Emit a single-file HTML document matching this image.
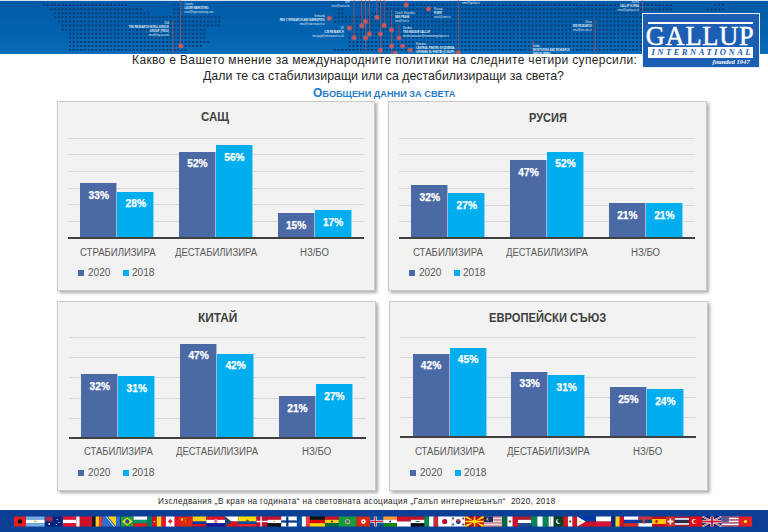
<!DOCTYPE html>
<html><head><meta charset="utf-8">
<style>
html,body{margin:0;padding:0;}
body{width:768px;height:532px;position:relative;overflow:hidden;background:#fff;font-family:"Liberation Sans",sans-serif;}
.t{position:absolute;white-space:pre;line-height:1;}
.box{position:absolute;background:#f2f2f2;border:1px solid #c9c9c9;box-sizing:border-box;box-shadow:2px 2px 3px rgba(0,0,0,0.33);}
.bar{position:absolute;box-sizing:border-box;}
.grid{position:absolute;height:1px;background:#d9d9d9;}
.axis{position:absolute;height:2px;background:#404040;}
.lab{position:absolute;white-space:pre;line-height:1;color:#fff;font-weight:700;font-size:10.2px;text-align:center;-webkit-text-stroke:0.25px #fff;}
</style></head><body>

<svg style="position:absolute;left:0;top:0" width="768" height="54" viewBox="0 0 768 54">
<defs>
<linearGradient id="hg" x1="0" y1="0" x2="0" y2="1">
<stop offset="0" stop-color="#005aa7"/><stop offset="0.7" stop-color="#0464b1"/><stop offset="1" stop-color="#066cba"/>
</linearGradient>
</defs>
<rect x="0" y="0" width="768" height="54" fill="url(#hg)"/>
<rect x="0" y="0" width="768" height="1" fill="#d8e2ee"/>
<path fill="#0a3a70" fill-opacity="0.9" d="M42.94 4.10h2v2h-2zM46.67 4.10h2v2h-2zM50.40 4.10h2v2h-2zM54.13 4.10h2v2h-2zM57.86 4.10h2v2h-2zM61.59 4.10h2v2h-2zM65.32 4.10h2v2h-2zM69.05 4.10h2v2h-2zM72.78 4.10h2v2h-2zM76.51 4.10h2v2h-2zM80.24 4.10h2v2h-2zM83.97 4.10h2v2h-2zM87.70 4.10h2v2h-2zM91.43 4.10h2v2h-2zM95.16 4.10h2v2h-2zM98.89 4.10h2v2h-2zM102.62 4.10h2v2h-2zM106.35 4.10h2v2h-2zM110.08 4.10h2v2h-2zM113.81 4.10h2v2h-2zM117.54 4.10h2v2h-2zM121.27 4.10h2v2h-2zM125.00 4.10h2v2h-2zM173.49 4.10h2v2h-2zM177.22 4.10h2v2h-2zM378.64 4.10h2v2h-2zM382.37 4.10h2v2h-2zM386.10 4.10h2v2h-2zM389.83 4.10h2v2h-2zM393.56 4.10h2v2h-2zM397.29 4.10h2v2h-2zM401.02 4.10h2v2h-2zM404.75 4.10h2v2h-2zM408.48 4.10h2v2h-2zM412.21 4.10h2v2h-2zM415.94 4.10h2v2h-2zM419.67 4.10h2v2h-2zM423.40 4.10h2v2h-2zM427.13 4.10h2v2h-2zM430.86 4.10h2v2h-2zM434.59 4.10h2v2h-2zM438.32 4.10h2v2h-2zM442.05 4.10h2v2h-2zM445.78 4.10h2v2h-2zM449.51 4.10h2v2h-2zM453.24 4.10h2v2h-2zM456.97 4.10h2v2h-2zM460.70 4.10h2v2h-2zM464.43 4.10h2v2h-2zM468.16 4.10h2v2h-2zM471.89 4.10h2v2h-2zM475.62 4.10h2v2h-2zM479.35 4.10h2v2h-2zM483.08 4.10h2v2h-2zM486.81 4.10h2v2h-2zM490.54 4.10h2v2h-2zM494.27 4.10h2v2h-2zM498.00 4.10h2v2h-2zM501.73 4.10h2v2h-2zM505.46 4.10h2v2h-2zM509.19 4.10h2v2h-2zM512.92 4.10h2v2h-2zM516.65 4.10h2v2h-2zM520.38 4.10h2v2h-2zM524.11 4.10h2v2h-2zM527.84 4.10h2v2h-2zM531.57 4.10h2v2h-2zM535.30 4.10h2v2h-2zM539.03 4.10h2v2h-2zM542.76 4.10h2v2h-2zM546.49 4.10h2v2h-2zM550.22 4.10h2v2h-2zM553.95 4.10h2v2h-2zM557.68 4.10h2v2h-2zM561.41 4.10h2v2h-2zM565.14 4.10h2v2h-2zM568.87 4.10h2v2h-2zM572.60 4.10h2v2h-2zM576.33 4.10h2v2h-2zM580.06 4.10h2v2h-2zM583.79 4.10h2v2h-2zM587.52 4.10h2v2h-2zM591.25 4.10h2v2h-2zM594.98 4.10h2v2h-2zM598.71 4.10h2v2h-2zM602.44 4.10h2v2h-2zM606.17 4.10h2v2h-2zM609.90 4.10h2v2h-2zM613.63 4.10h2v2h-2zM617.36 4.10h2v2h-2zM621.09 4.10h2v2h-2zM624.82 4.10h2v2h-2zM628.55 4.10h2v2h-2zM632.28 4.10h2v2h-2zM636.01 4.10h2v2h-2zM639.74 4.10h2v2h-2zM643.47 4.10h2v2h-2zM647.20 4.10h2v2h-2zM650.93 4.10h2v2h-2zM654.66 4.10h2v2h-2zM658.39 4.10h2v2h-2zM662.12 4.10h2v2h-2zM665.85 4.10h2v2h-2zM669.58 4.10h2v2h-2zM714.34 4.10h2v2h-2zM718.07 4.10h2v2h-2zM721.80 4.10h2v2h-2zM50.40 8.19h2v2h-2zM54.13 8.19h2v2h-2zM57.86 8.19h2v2h-2zM61.59 8.19h2v2h-2zM65.32 8.19h2v2h-2zM69.05 8.19h2v2h-2zM72.78 8.19h2v2h-2zM76.51 8.19h2v2h-2zM80.24 8.19h2v2h-2zM83.97 8.19h2v2h-2zM87.70 8.19h2v2h-2zM91.43 8.19h2v2h-2zM95.16 8.19h2v2h-2zM98.89 8.19h2v2h-2zM102.62 8.19h2v2h-2zM106.35 8.19h2v2h-2zM110.08 8.19h2v2h-2zM113.81 8.19h2v2h-2zM117.54 8.19h2v2h-2zM121.27 8.19h2v2h-2zM125.00 8.19h2v2h-2zM128.73 8.19h2v2h-2zM132.46 8.19h2v2h-2zM136.19 8.19h2v2h-2zM139.92 8.19h2v2h-2zM173.49 8.19h2v2h-2zM177.22 8.19h2v2h-2zM337.61 8.19h2v2h-2zM341.34 8.19h2v2h-2zM378.64 8.19h2v2h-2zM382.37 8.19h2v2h-2zM386.10 8.19h2v2h-2zM389.83 8.19h2v2h-2zM393.56 8.19h2v2h-2zM397.29 8.19h2v2h-2zM401.02 8.19h2v2h-2zM404.75 8.19h2v2h-2zM408.48 8.19h2v2h-2zM412.21 8.19h2v2h-2zM415.94 8.19h2v2h-2zM419.67 8.19h2v2h-2zM423.40 8.19h2v2h-2zM427.13 8.19h2v2h-2zM430.86 8.19h2v2h-2zM434.59 8.19h2v2h-2zM438.32 8.19h2v2h-2zM442.05 8.19h2v2h-2zM445.78 8.19h2v2h-2zM449.51 8.19h2v2h-2zM453.24 8.19h2v2h-2zM456.97 8.19h2v2h-2zM460.70 8.19h2v2h-2zM464.43 8.19h2v2h-2zM468.16 8.19h2v2h-2zM471.89 8.19h2v2h-2zM475.62 8.19h2v2h-2zM479.35 8.19h2v2h-2zM483.08 8.19h2v2h-2zM486.81 8.19h2v2h-2zM490.54 8.19h2v2h-2zM494.27 8.19h2v2h-2zM498.00 8.19h2v2h-2zM501.73 8.19h2v2h-2zM505.46 8.19h2v2h-2zM509.19 8.19h2v2h-2zM512.92 8.19h2v2h-2zM516.65 8.19h2v2h-2zM520.38 8.19h2v2h-2zM524.11 8.19h2v2h-2zM527.84 8.19h2v2h-2zM531.57 8.19h2v2h-2zM535.30 8.19h2v2h-2zM539.03 8.19h2v2h-2zM542.76 8.19h2v2h-2zM546.49 8.19h2v2h-2zM550.22 8.19h2v2h-2zM553.95 8.19h2v2h-2zM557.68 8.19h2v2h-2zM561.41 8.19h2v2h-2zM565.14 8.19h2v2h-2zM568.87 8.19h2v2h-2zM572.60 8.19h2v2h-2zM576.33 8.19h2v2h-2zM580.06 8.19h2v2h-2zM583.79 8.19h2v2h-2zM587.52 8.19h2v2h-2zM591.25 8.19h2v2h-2zM594.98 8.19h2v2h-2zM598.71 8.19h2v2h-2zM602.44 8.19h2v2h-2zM606.17 8.19h2v2h-2zM609.90 8.19h2v2h-2zM613.63 8.19h2v2h-2zM617.36 8.19h2v2h-2zM621.09 8.19h2v2h-2zM624.82 8.19h2v2h-2zM628.55 8.19h2v2h-2zM632.28 8.19h2v2h-2zM636.01 8.19h2v2h-2zM639.74 8.19h2v2h-2zM643.47 8.19h2v2h-2zM647.20 8.19h2v2h-2zM650.93 8.19h2v2h-2zM654.66 8.19h2v2h-2zM658.39 8.19h2v2h-2zM662.12 8.19h2v2h-2zM665.85 8.19h2v2h-2zM669.58 8.19h2v2h-2zM706.88 8.19h2v2h-2zM710.61 8.19h2v2h-2zM714.34 8.19h2v2h-2zM718.07 8.19h2v2h-2zM721.80 8.19h2v2h-2zM54.13 12.28h2v2h-2zM57.86 12.28h2v2h-2zM61.59 12.28h2v2h-2zM65.32 12.28h2v2h-2zM69.05 12.28h2v2h-2zM72.78 12.28h2v2h-2zM76.51 12.28h2v2h-2zM80.24 12.28h2v2h-2zM83.97 12.28h2v2h-2zM87.70 12.28h2v2h-2zM91.43 12.28h2v2h-2zM95.16 12.28h2v2h-2zM98.89 12.28h2v2h-2zM102.62 12.28h2v2h-2zM106.35 12.28h2v2h-2zM110.08 12.28h2v2h-2zM113.81 12.28h2v2h-2zM117.54 12.28h2v2h-2zM121.27 12.28h2v2h-2zM125.00 12.28h2v2h-2zM128.73 12.28h2v2h-2zM132.46 12.28h2v2h-2zM136.19 12.28h2v2h-2zM139.92 12.28h2v2h-2zM143.65 12.28h2v2h-2zM147.38 12.28h2v2h-2zM173.49 12.28h2v2h-2zM177.22 12.28h2v2h-2zM337.61 12.28h2v2h-2zM341.34 12.28h2v2h-2zM371.18 12.28h2v2h-2zM374.91 12.28h2v2h-2zM378.64 12.28h2v2h-2zM382.37 12.28h2v2h-2zM386.10 12.28h2v2h-2zM389.83 12.28h2v2h-2zM393.56 12.28h2v2h-2zM397.29 12.28h2v2h-2zM401.02 12.28h2v2h-2zM404.75 12.28h2v2h-2zM408.48 12.28h2v2h-2zM412.21 12.28h2v2h-2zM415.94 12.28h2v2h-2zM419.67 12.28h2v2h-2zM423.40 12.28h2v2h-2zM427.13 12.28h2v2h-2zM430.86 12.28h2v2h-2zM434.59 12.28h2v2h-2zM438.32 12.28h2v2h-2zM442.05 12.28h2v2h-2zM445.78 12.28h2v2h-2zM449.51 12.28h2v2h-2zM453.24 12.28h2v2h-2zM456.97 12.28h2v2h-2zM460.70 12.28h2v2h-2zM464.43 12.28h2v2h-2zM468.16 12.28h2v2h-2zM471.89 12.28h2v2h-2zM475.62 12.28h2v2h-2zM479.35 12.28h2v2h-2zM483.08 12.28h2v2h-2zM486.81 12.28h2v2h-2zM490.54 12.28h2v2h-2zM494.27 12.28h2v2h-2zM498.00 12.28h2v2h-2zM501.73 12.28h2v2h-2zM505.46 12.28h2v2h-2zM509.19 12.28h2v2h-2zM512.92 12.28h2v2h-2zM516.65 12.28h2v2h-2zM520.38 12.28h2v2h-2zM524.11 12.28h2v2h-2zM527.84 12.28h2v2h-2zM531.57 12.28h2v2h-2zM535.30 12.28h2v2h-2zM539.03 12.28h2v2h-2zM542.76 12.28h2v2h-2zM546.49 12.28h2v2h-2zM550.22 12.28h2v2h-2zM553.95 12.28h2v2h-2zM557.68 12.28h2v2h-2zM561.41 12.28h2v2h-2zM565.14 12.28h2v2h-2zM568.87 12.28h2v2h-2zM572.60 12.28h2v2h-2zM576.33 12.28h2v2h-2zM580.06 12.28h2v2h-2zM583.79 12.28h2v2h-2zM587.52 12.28h2v2h-2zM591.25 12.28h2v2h-2zM594.98 12.28h2v2h-2zM598.71 12.28h2v2h-2zM602.44 12.28h2v2h-2zM606.17 12.28h2v2h-2zM609.90 12.28h2v2h-2zM613.63 12.28h2v2h-2zM617.36 12.28h2v2h-2zM621.09 12.28h2v2h-2zM624.82 12.28h2v2h-2zM628.55 12.28h2v2h-2zM632.28 12.28h2v2h-2zM636.01 12.28h2v2h-2zM639.74 12.28h2v2h-2zM54.13 16.37h2v2h-2zM57.86 16.37h2v2h-2zM61.59 16.37h2v2h-2zM65.32 16.37h2v2h-2zM69.05 16.37h2v2h-2zM72.78 16.37h2v2h-2zM76.51 16.37h2v2h-2zM80.24 16.37h2v2h-2zM83.97 16.37h2v2h-2zM87.70 16.37h2v2h-2zM91.43 16.37h2v2h-2zM95.16 16.37h2v2h-2zM98.89 16.37h2v2h-2zM102.62 16.37h2v2h-2zM106.35 16.37h2v2h-2zM110.08 16.37h2v2h-2zM113.81 16.37h2v2h-2zM117.54 16.37h2v2h-2zM121.27 16.37h2v2h-2zM125.00 16.37h2v2h-2zM128.73 16.37h2v2h-2zM132.46 16.37h2v2h-2zM136.19 16.37h2v2h-2zM139.92 16.37h2v2h-2zM143.65 16.37h2v2h-2zM147.38 16.37h2v2h-2zM151.11 16.37h2v2h-2zM154.84 16.37h2v2h-2zM158.57 16.37h2v2h-2zM162.30 16.37h2v2h-2zM166.03 16.37h2v2h-2zM169.76 16.37h2v2h-2zM173.49 16.37h2v2h-2zM177.22 16.37h2v2h-2zM180.95 16.37h2v2h-2zM184.68 16.37h2v2h-2zM188.41 16.37h2v2h-2zM192.14 16.37h2v2h-2zM195.87 16.37h2v2h-2zM199.60 16.37h2v2h-2zM203.33 16.37h2v2h-2zM207.06 16.37h2v2h-2zM210.79 16.37h2v2h-2zM214.52 16.37h2v2h-2zM218.25 16.37h2v2h-2zM333.88 16.37h2v2h-2zM337.61 16.37h2v2h-2zM341.34 16.37h2v2h-2zM345.07 16.37h2v2h-2zM348.80 16.37h2v2h-2zM352.53 16.37h2v2h-2zM356.26 16.37h2v2h-2zM359.99 16.37h2v2h-2zM363.72 16.37h2v2h-2zM367.45 16.37h2v2h-2zM371.18 16.37h2v2h-2zM374.91 16.37h2v2h-2zM378.64 16.37h2v2h-2zM382.37 16.37h2v2h-2zM386.10 16.37h2v2h-2zM389.83 16.37h2v2h-2zM393.56 16.37h2v2h-2zM397.29 16.37h2v2h-2zM401.02 16.37h2v2h-2zM404.75 16.37h2v2h-2zM408.48 16.37h2v2h-2zM412.21 16.37h2v2h-2zM415.94 16.37h2v2h-2zM419.67 16.37h2v2h-2zM423.40 16.37h2v2h-2zM427.13 16.37h2v2h-2zM430.86 16.37h2v2h-2zM434.59 16.37h2v2h-2zM438.32 16.37h2v2h-2zM442.05 16.37h2v2h-2zM445.78 16.37h2v2h-2zM449.51 16.37h2v2h-2zM453.24 16.37h2v2h-2zM456.97 16.37h2v2h-2zM460.70 16.37h2v2h-2zM464.43 16.37h2v2h-2zM468.16 16.37h2v2h-2zM471.89 16.37h2v2h-2zM475.62 16.37h2v2h-2zM479.35 16.37h2v2h-2zM483.08 16.37h2v2h-2zM486.81 16.37h2v2h-2zM490.54 16.37h2v2h-2zM494.27 16.37h2v2h-2zM498.00 16.37h2v2h-2zM501.73 16.37h2v2h-2zM505.46 16.37h2v2h-2zM509.19 16.37h2v2h-2zM512.92 16.37h2v2h-2zM516.65 16.37h2v2h-2zM520.38 16.37h2v2h-2zM524.11 16.37h2v2h-2zM527.84 16.37h2v2h-2zM531.57 16.37h2v2h-2zM535.30 16.37h2v2h-2zM539.03 16.37h2v2h-2zM542.76 16.37h2v2h-2zM546.49 16.37h2v2h-2zM550.22 16.37h2v2h-2zM553.95 16.37h2v2h-2zM557.68 16.37h2v2h-2zM561.41 16.37h2v2h-2zM565.14 16.37h2v2h-2zM568.87 16.37h2v2h-2zM572.60 16.37h2v2h-2zM576.33 16.37h2v2h-2zM580.06 16.37h2v2h-2zM583.79 16.37h2v2h-2zM587.52 16.37h2v2h-2zM591.25 16.37h2v2h-2zM594.98 16.37h2v2h-2zM598.71 16.37h2v2h-2zM602.44 16.37h2v2h-2zM606.17 16.37h2v2h-2zM609.90 16.37h2v2h-2zM613.63 16.37h2v2h-2zM617.36 16.37h2v2h-2zM621.09 16.37h2v2h-2zM624.82 16.37h2v2h-2zM628.55 16.37h2v2h-2zM632.28 16.37h2v2h-2zM636.01 16.37h2v2h-2zM639.74 16.37h2v2h-2zM643.47 16.37h2v2h-2zM647.20 16.37h2v2h-2zM650.93 16.37h2v2h-2zM654.66 16.37h2v2h-2zM658.39 16.37h2v2h-2zM662.12 16.37h2v2h-2zM665.85 16.37h2v2h-2zM669.58 16.37h2v2h-2zM673.31 16.37h2v2h-2zM677.04 16.37h2v2h-2zM680.77 16.37h2v2h-2zM684.50 16.37h2v2h-2zM688.23 16.37h2v2h-2zM691.96 16.37h2v2h-2zM695.69 16.37h2v2h-2zM699.42 16.37h2v2h-2zM57.86 20.46h2v2h-2zM61.59 20.46h2v2h-2zM65.32 20.46h2v2h-2zM69.05 20.46h2v2h-2zM72.78 20.46h2v2h-2zM76.51 20.46h2v2h-2zM80.24 20.46h2v2h-2zM83.97 20.46h2v2h-2zM87.70 20.46h2v2h-2zM91.43 20.46h2v2h-2zM95.16 20.46h2v2h-2zM98.89 20.46h2v2h-2zM102.62 20.46h2v2h-2zM106.35 20.46h2v2h-2zM110.08 20.46h2v2h-2zM113.81 20.46h2v2h-2zM117.54 20.46h2v2h-2zM121.27 20.46h2v2h-2zM125.00 20.46h2v2h-2zM128.73 20.46h2v2h-2zM132.46 20.46h2v2h-2zM136.19 20.46h2v2h-2zM139.92 20.46h2v2h-2zM143.65 20.46h2v2h-2zM147.38 20.46h2v2h-2zM151.11 20.46h2v2h-2zM154.84 20.46h2v2h-2zM158.57 20.46h2v2h-2zM162.30 20.46h2v2h-2zM166.03 20.46h2v2h-2zM169.76 20.46h2v2h-2zM173.49 20.46h2v2h-2zM177.22 20.46h2v2h-2zM180.95 20.46h2v2h-2zM184.68 20.46h2v2h-2zM188.41 20.46h2v2h-2zM192.14 20.46h2v2h-2zM195.87 20.46h2v2h-2zM199.60 20.46h2v2h-2zM203.33 20.46h2v2h-2zM207.06 20.46h2v2h-2zM210.79 20.46h2v2h-2zM214.52 20.46h2v2h-2zM218.25 20.46h2v2h-2zM333.88 20.46h2v2h-2zM337.61 20.46h2v2h-2zM341.34 20.46h2v2h-2zM345.07 20.46h2v2h-2zM348.80 20.46h2v2h-2zM352.53 20.46h2v2h-2zM356.26 20.46h2v2h-2zM359.99 20.46h2v2h-2zM363.72 20.46h2v2h-2zM367.45 20.46h2v2h-2zM371.18 20.46h2v2h-2zM374.91 20.46h2v2h-2zM378.64 20.46h2v2h-2zM382.37 20.46h2v2h-2zM386.10 20.46h2v2h-2zM389.83 20.46h2v2h-2zM393.56 20.46h2v2h-2zM397.29 20.46h2v2h-2zM401.02 20.46h2v2h-2zM404.75 20.46h2v2h-2zM408.48 20.46h2v2h-2zM412.21 20.46h2v2h-2zM415.94 20.46h2v2h-2zM419.67 20.46h2v2h-2zM423.40 20.46h2v2h-2zM427.13 20.46h2v2h-2zM430.86 20.46h2v2h-2zM434.59 20.46h2v2h-2zM438.32 20.46h2v2h-2zM442.05 20.46h2v2h-2zM445.78 20.46h2v2h-2zM449.51 20.46h2v2h-2zM453.24 20.46h2v2h-2zM456.97 20.46h2v2h-2zM460.70 20.46h2v2h-2zM464.43 20.46h2v2h-2zM468.16 20.46h2v2h-2zM471.89 20.46h2v2h-2zM475.62 20.46h2v2h-2zM479.35 20.46h2v2h-2zM483.08 20.46h2v2h-2zM486.81 20.46h2v2h-2zM490.54 20.46h2v2h-2zM494.27 20.46h2v2h-2zM498.00 20.46h2v2h-2zM501.73 20.46h2v2h-2zM505.46 20.46h2v2h-2zM509.19 20.46h2v2h-2zM512.92 20.46h2v2h-2zM516.65 20.46h2v2h-2zM520.38 20.46h2v2h-2zM524.11 20.46h2v2h-2zM527.84 20.46h2v2h-2zM531.57 20.46h2v2h-2zM535.30 20.46h2v2h-2zM539.03 20.46h2v2h-2zM542.76 20.46h2v2h-2zM546.49 20.46h2v2h-2zM550.22 20.46h2v2h-2zM553.95 20.46h2v2h-2zM557.68 20.46h2v2h-2zM561.41 20.46h2v2h-2zM565.14 20.46h2v2h-2zM568.87 20.46h2v2h-2zM572.60 20.46h2v2h-2zM576.33 20.46h2v2h-2zM580.06 20.46h2v2h-2zM583.79 20.46h2v2h-2zM587.52 20.46h2v2h-2zM591.25 20.46h2v2h-2zM594.98 20.46h2v2h-2zM598.71 20.46h2v2h-2zM602.44 20.46h2v2h-2zM606.17 20.46h2v2h-2zM609.90 20.46h2v2h-2zM613.63 20.46h2v2h-2zM617.36 20.46h2v2h-2zM621.09 20.46h2v2h-2zM624.82 20.46h2v2h-2zM628.55 20.46h2v2h-2zM632.28 20.46h2v2h-2zM636.01 20.46h2v2h-2zM639.74 20.46h2v2h-2zM643.47 20.46h2v2h-2zM647.20 20.46h2v2h-2zM650.93 20.46h2v2h-2zM654.66 20.46h2v2h-2zM658.39 20.46h2v2h-2zM662.12 20.46h2v2h-2zM665.85 20.46h2v2h-2zM669.58 20.46h2v2h-2zM673.31 20.46h2v2h-2zM677.04 20.46h2v2h-2zM680.77 20.46h2v2h-2zM684.50 20.46h2v2h-2zM688.23 20.46h2v2h-2zM691.96 20.46h2v2h-2zM695.69 20.46h2v2h-2zM699.42 20.46h2v2h-2zM61.59 24.55h2v2h-2zM65.32 24.55h2v2h-2zM69.05 24.55h2v2h-2zM72.78 24.55h2v2h-2zM76.51 24.55h2v2h-2zM80.24 24.55h2v2h-2zM83.97 24.55h2v2h-2zM87.70 24.55h2v2h-2zM91.43 24.55h2v2h-2zM95.16 24.55h2v2h-2zM98.89 24.55h2v2h-2zM102.62 24.55h2v2h-2zM106.35 24.55h2v2h-2zM110.08 24.55h2v2h-2zM113.81 24.55h2v2h-2zM117.54 24.55h2v2h-2zM121.27 24.55h2v2h-2zM125.00 24.55h2v2h-2zM128.73 24.55h2v2h-2zM132.46 24.55h2v2h-2zM136.19 24.55h2v2h-2zM139.92 24.55h2v2h-2zM143.65 24.55h2v2h-2zM147.38 24.55h2v2h-2zM151.11 24.55h2v2h-2zM154.84 24.55h2v2h-2zM158.57 24.55h2v2h-2zM162.30 24.55h2v2h-2zM166.03 24.55h2v2h-2zM169.76 24.55h2v2h-2zM173.49 24.55h2v2h-2zM177.22 24.55h2v2h-2zM180.95 24.55h2v2h-2zM184.68 24.55h2v2h-2zM188.41 24.55h2v2h-2zM192.14 24.55h2v2h-2zM195.87 24.55h2v2h-2zM199.60 24.55h2v2h-2zM203.33 24.55h2v2h-2zM207.06 24.55h2v2h-2zM210.79 24.55h2v2h-2zM214.52 24.55h2v2h-2zM218.25 24.55h2v2h-2zM348.80 24.55h2v2h-2zM352.53 24.55h2v2h-2zM356.26 24.55h2v2h-2zM359.99 24.55h2v2h-2zM363.72 24.55h2v2h-2zM367.45 24.55h2v2h-2zM371.18 24.55h2v2h-2zM374.91 24.55h2v2h-2zM378.64 24.55h2v2h-2zM382.37 24.55h2v2h-2zM386.10 24.55h2v2h-2zM389.83 24.55h2v2h-2zM393.56 24.55h2v2h-2zM397.29 24.55h2v2h-2zM401.02 24.55h2v2h-2zM404.75 24.55h2v2h-2zM408.48 24.55h2v2h-2zM412.21 24.55h2v2h-2zM415.94 24.55h2v2h-2zM419.67 24.55h2v2h-2zM423.40 24.55h2v2h-2zM427.13 24.55h2v2h-2zM430.86 24.55h2v2h-2zM434.59 24.55h2v2h-2zM438.32 24.55h2v2h-2zM442.05 24.55h2v2h-2zM445.78 24.55h2v2h-2zM449.51 24.55h2v2h-2zM453.24 24.55h2v2h-2zM456.97 24.55h2v2h-2zM460.70 24.55h2v2h-2zM464.43 24.55h2v2h-2zM468.16 24.55h2v2h-2zM471.89 24.55h2v2h-2zM475.62 24.55h2v2h-2zM479.35 24.55h2v2h-2zM483.08 24.55h2v2h-2zM486.81 24.55h2v2h-2zM490.54 24.55h2v2h-2zM494.27 24.55h2v2h-2zM498.00 24.55h2v2h-2zM501.73 24.55h2v2h-2zM505.46 24.55h2v2h-2zM509.19 24.55h2v2h-2zM512.92 24.55h2v2h-2zM516.65 24.55h2v2h-2zM520.38 24.55h2v2h-2zM524.11 24.55h2v2h-2zM527.84 24.55h2v2h-2zM531.57 24.55h2v2h-2zM535.30 24.55h2v2h-2zM539.03 24.55h2v2h-2zM542.76 24.55h2v2h-2zM546.49 24.55h2v2h-2zM550.22 24.55h2v2h-2zM553.95 24.55h2v2h-2zM557.68 24.55h2v2h-2zM561.41 24.55h2v2h-2zM565.14 24.55h2v2h-2zM568.87 24.55h2v2h-2zM572.60 24.55h2v2h-2zM576.33 24.55h2v2h-2zM580.06 24.55h2v2h-2zM583.79 24.55h2v2h-2zM587.52 24.55h2v2h-2zM591.25 24.55h2v2h-2zM594.98 24.55h2v2h-2zM598.71 24.55h2v2h-2zM602.44 24.55h2v2h-2zM606.17 24.55h2v2h-2zM609.90 24.55h2v2h-2zM613.63 24.55h2v2h-2zM617.36 24.55h2v2h-2zM621.09 24.55h2v2h-2zM624.82 24.55h2v2h-2zM628.55 24.55h2v2h-2zM632.28 24.55h2v2h-2zM636.01 24.55h2v2h-2zM639.74 24.55h2v2h-2zM643.47 24.55h2v2h-2zM647.20 24.55h2v2h-2zM650.93 24.55h2v2h-2zM654.66 24.55h2v2h-2zM658.39 24.55h2v2h-2zM662.12 24.55h2v2h-2zM665.85 24.55h2v2h-2zM669.58 24.55h2v2h-2zM673.31 24.55h2v2h-2zM677.04 24.55h2v2h-2zM680.77 24.55h2v2h-2zM684.50 24.55h2v2h-2zM688.23 24.55h2v2h-2zM691.96 24.55h2v2h-2zM695.69 24.55h2v2h-2zM699.42 24.55h2v2h-2zM61.59 28.64h2v2h-2zM65.32 28.64h2v2h-2zM69.05 28.64h2v2h-2zM72.78 28.64h2v2h-2zM76.51 28.64h2v2h-2zM80.24 28.64h2v2h-2zM83.97 28.64h2v2h-2zM87.70 28.64h2v2h-2zM91.43 28.64h2v2h-2zM95.16 28.64h2v2h-2zM98.89 28.64h2v2h-2zM102.62 28.64h2v2h-2zM106.35 28.64h2v2h-2zM110.08 28.64h2v2h-2zM113.81 28.64h2v2h-2zM117.54 28.64h2v2h-2zM121.27 28.64h2v2h-2zM125.00 28.64h2v2h-2zM128.73 28.64h2v2h-2zM132.46 28.64h2v2h-2zM136.19 28.64h2v2h-2zM139.92 28.64h2v2h-2zM143.65 28.64h2v2h-2zM147.38 28.64h2v2h-2zM151.11 28.64h2v2h-2zM154.84 28.64h2v2h-2zM158.57 28.64h2v2h-2zM162.30 28.64h2v2h-2zM166.03 28.64h2v2h-2zM169.76 28.64h2v2h-2zM173.49 28.64h2v2h-2zM177.22 28.64h2v2h-2zM180.95 28.64h2v2h-2zM184.68 28.64h2v2h-2zM188.41 28.64h2v2h-2zM192.14 28.64h2v2h-2zM195.87 28.64h2v2h-2zM199.60 28.64h2v2h-2zM203.33 28.64h2v2h-2zM352.53 28.64h2v2h-2zM356.26 28.64h2v2h-2zM359.99 28.64h2v2h-2zM363.72 28.64h2v2h-2zM367.45 28.64h2v2h-2zM371.18 28.64h2v2h-2zM374.91 28.64h2v2h-2zM378.64 28.64h2v2h-2zM382.37 28.64h2v2h-2zM386.10 28.64h2v2h-2zM389.83 28.64h2v2h-2zM393.56 28.64h2v2h-2zM397.29 28.64h2v2h-2zM401.02 28.64h2v2h-2zM404.75 28.64h2v2h-2zM408.48 28.64h2v2h-2zM412.21 28.64h2v2h-2zM415.94 28.64h2v2h-2zM419.67 28.64h2v2h-2zM423.40 28.64h2v2h-2zM427.13 28.64h2v2h-2zM430.86 28.64h2v2h-2zM434.59 28.64h2v2h-2zM438.32 28.64h2v2h-2zM442.05 28.64h2v2h-2zM445.78 28.64h2v2h-2zM449.51 28.64h2v2h-2zM453.24 28.64h2v2h-2zM456.97 28.64h2v2h-2zM460.70 28.64h2v2h-2zM464.43 28.64h2v2h-2zM468.16 28.64h2v2h-2zM471.89 28.64h2v2h-2zM475.62 28.64h2v2h-2zM479.35 28.64h2v2h-2zM483.08 28.64h2v2h-2zM486.81 28.64h2v2h-2zM490.54 28.64h2v2h-2zM494.27 28.64h2v2h-2zM498.00 28.64h2v2h-2zM501.73 28.64h2v2h-2zM505.46 28.64h2v2h-2zM509.19 28.64h2v2h-2zM512.92 28.64h2v2h-2zM516.65 28.64h2v2h-2zM520.38 28.64h2v2h-2zM524.11 28.64h2v2h-2zM527.84 28.64h2v2h-2zM531.57 28.64h2v2h-2zM535.30 28.64h2v2h-2zM539.03 28.64h2v2h-2zM542.76 28.64h2v2h-2zM546.49 28.64h2v2h-2zM550.22 28.64h2v2h-2zM553.95 28.64h2v2h-2zM557.68 28.64h2v2h-2zM561.41 28.64h2v2h-2zM565.14 28.64h2v2h-2zM568.87 28.64h2v2h-2zM572.60 28.64h2v2h-2zM576.33 28.64h2v2h-2zM580.06 28.64h2v2h-2zM583.79 28.64h2v2h-2zM587.52 28.64h2v2h-2zM591.25 28.64h2v2h-2zM594.98 28.64h2v2h-2zM598.71 28.64h2v2h-2zM602.44 28.64h2v2h-2zM606.17 28.64h2v2h-2zM609.90 28.64h2v2h-2zM613.63 28.64h2v2h-2zM617.36 28.64h2v2h-2zM621.09 28.64h2v2h-2zM624.82 28.64h2v2h-2zM628.55 28.64h2v2h-2zM632.28 28.64h2v2h-2zM636.01 28.64h2v2h-2zM639.74 28.64h2v2h-2zM643.47 28.64h2v2h-2zM647.20 28.64h2v2h-2zM650.93 28.64h2v2h-2zM654.66 28.64h2v2h-2zM658.39 28.64h2v2h-2zM662.12 28.64h2v2h-2zM665.85 28.64h2v2h-2zM669.58 28.64h2v2h-2zM673.31 28.64h2v2h-2zM677.04 28.64h2v2h-2zM680.77 28.64h2v2h-2zM684.50 28.64h2v2h-2zM688.23 28.64h2v2h-2zM691.96 28.64h2v2h-2zM695.69 28.64h2v2h-2zM699.42 28.64h2v2h-2zM69.05 32.73h2v2h-2zM72.78 32.73h2v2h-2zM76.51 32.73h2v2h-2zM80.24 32.73h2v2h-2zM83.97 32.73h2v2h-2zM87.70 32.73h2v2h-2zM91.43 32.73h2v2h-2zM95.16 32.73h2v2h-2zM98.89 32.73h2v2h-2zM102.62 32.73h2v2h-2zM106.35 32.73h2v2h-2zM110.08 32.73h2v2h-2zM113.81 32.73h2v2h-2zM117.54 32.73h2v2h-2zM121.27 32.73h2v2h-2zM125.00 32.73h2v2h-2zM128.73 32.73h2v2h-2zM132.46 32.73h2v2h-2zM136.19 32.73h2v2h-2zM139.92 32.73h2v2h-2zM143.65 32.73h2v2h-2zM147.38 32.73h2v2h-2zM151.11 32.73h2v2h-2zM154.84 32.73h2v2h-2zM158.57 32.73h2v2h-2zM162.30 32.73h2v2h-2zM166.03 32.73h2v2h-2zM169.76 32.73h2v2h-2zM173.49 32.73h2v2h-2zM177.22 32.73h2v2h-2zM180.95 32.73h2v2h-2zM184.68 32.73h2v2h-2zM188.41 32.73h2v2h-2zM192.14 32.73h2v2h-2zM195.87 32.73h2v2h-2zM199.60 32.73h2v2h-2zM203.33 32.73h2v2h-2zM348.80 32.73h2v2h-2zM352.53 32.73h2v2h-2zM356.26 32.73h2v2h-2zM359.99 32.73h2v2h-2zM363.72 32.73h2v2h-2zM367.45 32.73h2v2h-2zM371.18 32.73h2v2h-2zM374.91 32.73h2v2h-2zM378.64 32.73h2v2h-2zM382.37 32.73h2v2h-2zM386.10 32.73h2v2h-2zM389.83 32.73h2v2h-2zM393.56 32.73h2v2h-2zM397.29 32.73h2v2h-2zM401.02 32.73h2v2h-2zM404.75 32.73h2v2h-2zM408.48 32.73h2v2h-2zM412.21 32.73h2v2h-2zM415.94 32.73h2v2h-2zM419.67 32.73h2v2h-2zM423.40 32.73h2v2h-2zM427.13 32.73h2v2h-2zM430.86 32.73h2v2h-2zM434.59 32.73h2v2h-2zM438.32 32.73h2v2h-2zM442.05 32.73h2v2h-2zM445.78 32.73h2v2h-2zM449.51 32.73h2v2h-2zM453.24 32.73h2v2h-2zM456.97 32.73h2v2h-2zM460.70 32.73h2v2h-2zM464.43 32.73h2v2h-2zM468.16 32.73h2v2h-2zM471.89 32.73h2v2h-2zM475.62 32.73h2v2h-2zM479.35 32.73h2v2h-2zM483.08 32.73h2v2h-2zM486.81 32.73h2v2h-2zM490.54 32.73h2v2h-2zM494.27 32.73h2v2h-2zM498.00 32.73h2v2h-2zM501.73 32.73h2v2h-2zM505.46 32.73h2v2h-2zM509.19 32.73h2v2h-2zM512.92 32.73h2v2h-2zM516.65 32.73h2v2h-2zM520.38 32.73h2v2h-2zM524.11 32.73h2v2h-2zM527.84 32.73h2v2h-2zM531.57 32.73h2v2h-2zM535.30 32.73h2v2h-2zM539.03 32.73h2v2h-2zM542.76 32.73h2v2h-2zM546.49 32.73h2v2h-2zM550.22 32.73h2v2h-2zM553.95 32.73h2v2h-2zM557.68 32.73h2v2h-2zM561.41 32.73h2v2h-2zM565.14 32.73h2v2h-2zM568.87 32.73h2v2h-2zM572.60 32.73h2v2h-2zM576.33 32.73h2v2h-2zM580.06 32.73h2v2h-2zM583.79 32.73h2v2h-2zM587.52 32.73h2v2h-2zM591.25 32.73h2v2h-2zM594.98 32.73h2v2h-2zM598.71 32.73h2v2h-2zM602.44 32.73h2v2h-2zM606.17 32.73h2v2h-2zM609.90 32.73h2v2h-2zM613.63 32.73h2v2h-2zM617.36 32.73h2v2h-2zM621.09 32.73h2v2h-2zM624.82 32.73h2v2h-2zM628.55 32.73h2v2h-2zM632.28 32.73h2v2h-2zM636.01 32.73h2v2h-2zM639.74 32.73h2v2h-2zM643.47 32.73h2v2h-2zM647.20 32.73h2v2h-2zM650.93 32.73h2v2h-2zM654.66 32.73h2v2h-2zM658.39 32.73h2v2h-2zM662.12 32.73h2v2h-2zM665.85 32.73h2v2h-2zM669.58 32.73h2v2h-2zM673.31 32.73h2v2h-2zM677.04 32.73h2v2h-2zM680.77 32.73h2v2h-2zM684.50 32.73h2v2h-2zM688.23 32.73h2v2h-2zM691.96 32.73h2v2h-2zM695.69 32.73h2v2h-2zM699.42 32.73h2v2h-2zM69.05 36.82h2v2h-2zM72.78 36.82h2v2h-2zM76.51 36.82h2v2h-2zM80.24 36.82h2v2h-2zM83.97 36.82h2v2h-2zM87.70 36.82h2v2h-2zM91.43 36.82h2v2h-2zM95.16 36.82h2v2h-2zM98.89 36.82h2v2h-2zM102.62 36.82h2v2h-2zM106.35 36.82h2v2h-2zM110.08 36.82h2v2h-2zM113.81 36.82h2v2h-2zM117.54 36.82h2v2h-2zM121.27 36.82h2v2h-2zM125.00 36.82h2v2h-2zM128.73 36.82h2v2h-2zM132.46 36.82h2v2h-2zM136.19 36.82h2v2h-2zM139.92 36.82h2v2h-2zM143.65 36.82h2v2h-2zM147.38 36.82h2v2h-2zM151.11 36.82h2v2h-2zM154.84 36.82h2v2h-2zM158.57 36.82h2v2h-2zM162.30 36.82h2v2h-2zM166.03 36.82h2v2h-2zM169.76 36.82h2v2h-2zM173.49 36.82h2v2h-2zM177.22 36.82h2v2h-2zM180.95 36.82h2v2h-2zM184.68 36.82h2v2h-2zM188.41 36.82h2v2h-2zM192.14 36.82h2v2h-2zM195.87 36.82h2v2h-2zM199.60 36.82h2v2h-2zM203.33 36.82h2v2h-2zM348.80 36.82h2v2h-2zM352.53 36.82h2v2h-2zM356.26 36.82h2v2h-2zM359.99 36.82h2v2h-2zM363.72 36.82h2v2h-2zM367.45 36.82h2v2h-2zM371.18 36.82h2v2h-2zM374.91 36.82h2v2h-2zM378.64 36.82h2v2h-2zM382.37 36.82h2v2h-2zM386.10 36.82h2v2h-2zM389.83 36.82h2v2h-2zM393.56 36.82h2v2h-2zM397.29 36.82h2v2h-2zM401.02 36.82h2v2h-2zM404.75 36.82h2v2h-2zM408.48 36.82h2v2h-2zM412.21 36.82h2v2h-2zM415.94 36.82h2v2h-2zM419.67 36.82h2v2h-2zM423.40 36.82h2v2h-2zM427.13 36.82h2v2h-2zM430.86 36.82h2v2h-2zM434.59 36.82h2v2h-2zM438.32 36.82h2v2h-2zM442.05 36.82h2v2h-2zM445.78 36.82h2v2h-2zM449.51 36.82h2v2h-2zM453.24 36.82h2v2h-2zM456.97 36.82h2v2h-2zM460.70 36.82h2v2h-2zM464.43 36.82h2v2h-2zM468.16 36.82h2v2h-2zM471.89 36.82h2v2h-2zM475.62 36.82h2v2h-2zM479.35 36.82h2v2h-2zM483.08 36.82h2v2h-2zM486.81 36.82h2v2h-2zM490.54 36.82h2v2h-2zM494.27 36.82h2v2h-2zM498.00 36.82h2v2h-2zM501.73 36.82h2v2h-2zM505.46 36.82h2v2h-2zM509.19 36.82h2v2h-2zM512.92 36.82h2v2h-2zM516.65 36.82h2v2h-2zM520.38 36.82h2v2h-2zM524.11 36.82h2v2h-2zM527.84 36.82h2v2h-2zM531.57 36.82h2v2h-2zM535.30 36.82h2v2h-2zM539.03 36.82h2v2h-2zM542.76 36.82h2v2h-2zM546.49 36.82h2v2h-2zM550.22 36.82h2v2h-2zM553.95 36.82h2v2h-2zM557.68 36.82h2v2h-2zM561.41 36.82h2v2h-2zM565.14 36.82h2v2h-2zM568.87 36.82h2v2h-2zM572.60 36.82h2v2h-2zM576.33 36.82h2v2h-2zM580.06 36.82h2v2h-2zM583.79 36.82h2v2h-2zM587.52 36.82h2v2h-2zM591.25 36.82h2v2h-2zM594.98 36.82h2v2h-2zM598.71 36.82h2v2h-2zM602.44 36.82h2v2h-2zM606.17 36.82h2v2h-2zM609.90 36.82h2v2h-2zM613.63 36.82h2v2h-2zM617.36 36.82h2v2h-2zM621.09 36.82h2v2h-2zM624.82 36.82h2v2h-2zM628.55 36.82h2v2h-2zM632.28 36.82h2v2h-2zM636.01 36.82h2v2h-2zM639.74 36.82h2v2h-2zM643.47 36.82h2v2h-2zM647.20 36.82h2v2h-2zM650.93 36.82h2v2h-2zM654.66 36.82h2v2h-2zM658.39 36.82h2v2h-2zM662.12 36.82h2v2h-2zM665.85 36.82h2v2h-2zM669.58 36.82h2v2h-2zM673.31 36.82h2v2h-2zM677.04 36.82h2v2h-2zM680.77 36.82h2v2h-2zM684.50 36.82h2v2h-2zM688.23 36.82h2v2h-2zM691.96 36.82h2v2h-2zM695.69 36.82h2v2h-2zM699.42 36.82h2v2h-2zM69.05 40.91h2v2h-2zM72.78 40.91h2v2h-2zM76.51 40.91h2v2h-2zM80.24 40.91h2v2h-2zM83.97 40.91h2v2h-2zM87.70 40.91h2v2h-2zM91.43 40.91h2v2h-2zM95.16 40.91h2v2h-2zM98.89 40.91h2v2h-2zM102.62 40.91h2v2h-2zM106.35 40.91h2v2h-2zM110.08 40.91h2v2h-2zM113.81 40.91h2v2h-2zM117.54 40.91h2v2h-2zM121.27 40.91h2v2h-2zM125.00 40.91h2v2h-2zM128.73 40.91h2v2h-2zM132.46 40.91h2v2h-2zM136.19 40.91h2v2h-2zM139.92 40.91h2v2h-2zM143.65 40.91h2v2h-2zM147.38 40.91h2v2h-2zM151.11 40.91h2v2h-2zM154.84 40.91h2v2h-2zM158.57 40.91h2v2h-2zM162.30 40.91h2v2h-2zM166.03 40.91h2v2h-2zM169.76 40.91h2v2h-2zM173.49 40.91h2v2h-2zM177.22 40.91h2v2h-2zM180.95 40.91h2v2h-2zM184.68 40.91h2v2h-2zM188.41 40.91h2v2h-2zM192.14 40.91h2v2h-2zM195.87 40.91h2v2h-2zM199.60 40.91h2v2h-2zM203.33 40.91h2v2h-2zM207.06 40.91h2v2h-2zM348.80 40.91h2v2h-2zM352.53 40.91h2v2h-2zM356.26 40.91h2v2h-2zM359.99 40.91h2v2h-2zM363.72 40.91h2v2h-2zM367.45 40.91h2v2h-2zM371.18 40.91h2v2h-2zM374.91 40.91h2v2h-2zM378.64 40.91h2v2h-2zM382.37 40.91h2v2h-2zM386.10 40.91h2v2h-2zM389.83 40.91h2v2h-2zM393.56 40.91h2v2h-2zM397.29 40.91h2v2h-2zM401.02 40.91h2v2h-2zM404.75 40.91h2v2h-2zM408.48 40.91h2v2h-2zM412.21 40.91h2v2h-2zM415.94 40.91h2v2h-2zM419.67 40.91h2v2h-2zM423.40 40.91h2v2h-2zM427.13 40.91h2v2h-2zM430.86 40.91h2v2h-2zM434.59 40.91h2v2h-2zM438.32 40.91h2v2h-2zM442.05 40.91h2v2h-2zM445.78 40.91h2v2h-2zM449.51 40.91h2v2h-2zM453.24 40.91h2v2h-2zM456.97 40.91h2v2h-2zM460.70 40.91h2v2h-2zM464.43 40.91h2v2h-2zM468.16 40.91h2v2h-2zM471.89 40.91h2v2h-2zM475.62 40.91h2v2h-2zM479.35 40.91h2v2h-2zM483.08 40.91h2v2h-2zM486.81 40.91h2v2h-2zM490.54 40.91h2v2h-2zM494.27 40.91h2v2h-2zM498.00 40.91h2v2h-2zM501.73 40.91h2v2h-2zM505.46 40.91h2v2h-2zM509.19 40.91h2v2h-2zM512.92 40.91h2v2h-2zM516.65 40.91h2v2h-2zM520.38 40.91h2v2h-2zM524.11 40.91h2v2h-2zM527.84 40.91h2v2h-2zM531.57 40.91h2v2h-2zM535.30 40.91h2v2h-2zM539.03 40.91h2v2h-2zM542.76 40.91h2v2h-2zM546.49 40.91h2v2h-2zM550.22 40.91h2v2h-2zM553.95 40.91h2v2h-2zM557.68 40.91h2v2h-2zM561.41 40.91h2v2h-2zM565.14 40.91h2v2h-2zM568.87 40.91h2v2h-2zM572.60 40.91h2v2h-2zM576.33 40.91h2v2h-2zM580.06 40.91h2v2h-2zM583.79 40.91h2v2h-2zM587.52 40.91h2v2h-2zM591.25 40.91h2v2h-2zM594.98 40.91h2v2h-2zM598.71 40.91h2v2h-2zM602.44 40.91h2v2h-2zM606.17 40.91h2v2h-2zM609.90 40.91h2v2h-2zM613.63 40.91h2v2h-2zM617.36 40.91h2v2h-2zM621.09 40.91h2v2h-2zM624.82 40.91h2v2h-2zM628.55 40.91h2v2h-2zM632.28 40.91h2v2h-2zM636.01 40.91h2v2h-2zM639.74 40.91h2v2h-2zM643.47 40.91h2v2h-2zM647.20 40.91h2v2h-2zM650.93 40.91h2v2h-2zM654.66 40.91h2v2h-2zM658.39 40.91h2v2h-2zM662.12 40.91h2v2h-2zM665.85 40.91h2v2h-2zM669.58 40.91h2v2h-2zM673.31 40.91h2v2h-2zM677.04 40.91h2v2h-2zM680.77 40.91h2v2h-2zM684.50 40.91h2v2h-2zM688.23 40.91h2v2h-2zM691.96 40.91h2v2h-2zM695.69 40.91h2v2h-2zM699.42 40.91h2v2h-2zM69.05 45.00h2v2h-2zM72.78 45.00h2v2h-2zM76.51 45.00h2v2h-2zM80.24 45.00h2v2h-2zM83.97 45.00h2v2h-2zM87.70 45.00h2v2h-2zM91.43 45.00h2v2h-2zM95.16 45.00h2v2h-2zM98.89 45.00h2v2h-2zM102.62 45.00h2v2h-2zM106.35 45.00h2v2h-2zM110.08 45.00h2v2h-2zM113.81 45.00h2v2h-2zM117.54 45.00h2v2h-2zM121.27 45.00h2v2h-2zM125.00 45.00h2v2h-2zM128.73 45.00h2v2h-2zM132.46 45.00h2v2h-2zM136.19 45.00h2v2h-2zM139.92 45.00h2v2h-2zM143.65 45.00h2v2h-2zM147.38 45.00h2v2h-2zM151.11 45.00h2v2h-2zM154.84 45.00h2v2h-2zM158.57 45.00h2v2h-2zM162.30 45.00h2v2h-2zM166.03 45.00h2v2h-2zM169.76 45.00h2v2h-2zM173.49 45.00h2v2h-2zM177.22 45.00h2v2h-2zM180.95 45.00h2v2h-2zM184.68 45.00h2v2h-2zM188.41 45.00h2v2h-2zM192.14 45.00h2v2h-2zM195.87 45.00h2v2h-2zM199.60 45.00h2v2h-2zM348.80 45.00h2v2h-2zM352.53 45.00h2v2h-2zM356.26 45.00h2v2h-2zM359.99 45.00h2v2h-2zM363.72 45.00h2v2h-2zM367.45 45.00h2v2h-2zM371.18 45.00h2v2h-2zM374.91 45.00h2v2h-2zM378.64 45.00h2v2h-2zM382.37 45.00h2v2h-2zM386.10 45.00h2v2h-2zM389.83 45.00h2v2h-2zM393.56 45.00h2v2h-2zM397.29 45.00h2v2h-2zM401.02 45.00h2v2h-2zM404.75 45.00h2v2h-2zM408.48 45.00h2v2h-2zM412.21 45.00h2v2h-2zM415.94 45.00h2v2h-2zM419.67 45.00h2v2h-2zM423.40 45.00h2v2h-2zM427.13 45.00h2v2h-2zM430.86 45.00h2v2h-2zM434.59 45.00h2v2h-2zM438.32 45.00h2v2h-2zM442.05 45.00h2v2h-2zM445.78 45.00h2v2h-2zM449.51 45.00h2v2h-2zM453.24 45.00h2v2h-2zM456.97 45.00h2v2h-2zM460.70 45.00h2v2h-2zM464.43 45.00h2v2h-2zM468.16 45.00h2v2h-2zM471.89 45.00h2v2h-2zM475.62 45.00h2v2h-2zM479.35 45.00h2v2h-2zM483.08 45.00h2v2h-2zM486.81 45.00h2v2h-2zM490.54 45.00h2v2h-2zM494.27 45.00h2v2h-2zM498.00 45.00h2v2h-2zM501.73 45.00h2v2h-2zM505.46 45.00h2v2h-2zM509.19 45.00h2v2h-2zM512.92 45.00h2v2h-2zM516.65 45.00h2v2h-2zM520.38 45.00h2v2h-2zM524.11 45.00h2v2h-2zM527.84 45.00h2v2h-2zM531.57 45.00h2v2h-2zM535.30 45.00h2v2h-2zM539.03 45.00h2v2h-2zM542.76 45.00h2v2h-2zM546.49 45.00h2v2h-2zM550.22 45.00h2v2h-2zM553.95 45.00h2v2h-2zM557.68 45.00h2v2h-2zM561.41 45.00h2v2h-2zM565.14 45.00h2v2h-2zM568.87 45.00h2v2h-2zM572.60 45.00h2v2h-2zM576.33 45.00h2v2h-2zM580.06 45.00h2v2h-2zM583.79 45.00h2v2h-2zM587.52 45.00h2v2h-2zM591.25 45.00h2v2h-2zM594.98 45.00h2v2h-2zM598.71 45.00h2v2h-2zM602.44 45.00h2v2h-2zM606.17 45.00h2v2h-2zM609.90 45.00h2v2h-2zM613.63 45.00h2v2h-2zM617.36 45.00h2v2h-2zM621.09 45.00h2v2h-2zM624.82 45.00h2v2h-2zM628.55 45.00h2v2h-2zM632.28 45.00h2v2h-2zM636.01 45.00h2v2h-2zM639.74 45.00h2v2h-2zM643.47 45.00h2v2h-2zM647.20 45.00h2v2h-2zM650.93 45.00h2v2h-2zM654.66 45.00h2v2h-2zM658.39 45.00h2v2h-2zM662.12 45.00h2v2h-2zM665.85 45.00h2v2h-2zM669.58 45.00h2v2h-2zM673.31 45.00h2v2h-2zM677.04 45.00h2v2h-2zM680.77 45.00h2v2h-2zM684.50 45.00h2v2h-2zM688.23 45.00h2v2h-2zM691.96 45.00h2v2h-2zM695.69 45.00h2v2h-2zM699.42 45.00h2v2h-2zM69.05 49.09h2v2h-2zM72.78 49.09h2v2h-2zM76.51 49.09h2v2h-2zM80.24 49.09h2v2h-2zM83.97 49.09h2v2h-2zM87.70 49.09h2v2h-2zM91.43 49.09h2v2h-2zM95.16 49.09h2v2h-2zM98.89 49.09h2v2h-2zM102.62 49.09h2v2h-2zM106.35 49.09h2v2h-2zM110.08 49.09h2v2h-2zM113.81 49.09h2v2h-2zM117.54 49.09h2v2h-2zM121.27 49.09h2v2h-2zM125.00 49.09h2v2h-2zM128.73 49.09h2v2h-2zM132.46 49.09h2v2h-2zM136.19 49.09h2v2h-2zM139.92 49.09h2v2h-2zM143.65 49.09h2v2h-2zM147.38 49.09h2v2h-2zM151.11 49.09h2v2h-2zM154.84 49.09h2v2h-2zM158.57 49.09h2v2h-2zM162.30 49.09h2v2h-2zM166.03 49.09h2v2h-2zM169.76 49.09h2v2h-2zM173.49 49.09h2v2h-2zM177.22 49.09h2v2h-2zM180.95 49.09h2v2h-2zM184.68 49.09h2v2h-2zM333.88 49.09h2v2h-2zM337.61 49.09h2v2h-2zM341.34 49.09h2v2h-2zM345.07 49.09h2v2h-2zM348.80 49.09h2v2h-2zM352.53 49.09h2v2h-2zM356.26 49.09h2v2h-2zM359.99 49.09h2v2h-2zM363.72 49.09h2v2h-2zM367.45 49.09h2v2h-2zM371.18 49.09h2v2h-2zM374.91 49.09h2v2h-2zM378.64 49.09h2v2h-2zM382.37 49.09h2v2h-2zM386.10 49.09h2v2h-2zM389.83 49.09h2v2h-2zM393.56 49.09h2v2h-2zM397.29 49.09h2v2h-2zM401.02 49.09h2v2h-2zM404.75 49.09h2v2h-2zM408.48 49.09h2v2h-2zM412.21 49.09h2v2h-2zM415.94 49.09h2v2h-2zM419.67 49.09h2v2h-2zM423.40 49.09h2v2h-2zM427.13 49.09h2v2h-2zM430.86 49.09h2v2h-2zM434.59 49.09h2v2h-2zM438.32 49.09h2v2h-2zM442.05 49.09h2v2h-2zM445.78 49.09h2v2h-2zM449.51 49.09h2v2h-2zM453.24 49.09h2v2h-2zM456.97 49.09h2v2h-2zM460.70 49.09h2v2h-2zM464.43 49.09h2v2h-2zM468.16 49.09h2v2h-2zM471.89 49.09h2v2h-2zM475.62 49.09h2v2h-2zM479.35 49.09h2v2h-2zM483.08 49.09h2v2h-2zM486.81 49.09h2v2h-2zM490.54 49.09h2v2h-2zM494.27 49.09h2v2h-2zM498.00 49.09h2v2h-2zM501.73 49.09h2v2h-2zM505.46 49.09h2v2h-2zM509.19 49.09h2v2h-2zM512.92 49.09h2v2h-2zM516.65 49.09h2v2h-2zM520.38 49.09h2v2h-2zM524.11 49.09h2v2h-2zM527.84 49.09h2v2h-2zM531.57 49.09h2v2h-2zM535.30 49.09h2v2h-2zM539.03 49.09h2v2h-2zM542.76 49.09h2v2h-2zM546.49 49.09h2v2h-2zM550.22 49.09h2v2h-2zM553.95 49.09h2v2h-2zM557.68 49.09h2v2h-2zM561.41 49.09h2v2h-2zM565.14 49.09h2v2h-2zM568.87 49.09h2v2h-2zM572.60 49.09h2v2h-2zM576.33 49.09h2v2h-2zM580.06 49.09h2v2h-2zM583.79 49.09h2v2h-2zM587.52 49.09h2v2h-2zM591.25 49.09h2v2h-2zM594.98 49.09h2v2h-2zM598.71 49.09h2v2h-2zM602.44 49.09h2v2h-2zM606.17 49.09h2v2h-2zM609.90 49.09h2v2h-2zM613.63 49.09h2v2h-2zM617.36 49.09h2v2h-2zM621.09 49.09h2v2h-2zM624.82 49.09h2v2h-2zM628.55 49.09h2v2h-2zM632.28 49.09h2v2h-2zM636.01 49.09h2v2h-2zM639.74 49.09h2v2h-2zM643.47 49.09h2v2h-2zM647.20 49.09h2v2h-2zM650.93 49.09h2v2h-2zM654.66 49.09h2v2h-2zM658.39 49.09h2v2h-2zM662.12 49.09h2v2h-2zM665.85 49.09h2v2h-2zM669.58 49.09h2v2h-2zM673.31 49.09h2v2h-2zM677.04 49.09h2v2h-2zM680.77 49.09h2v2h-2zM684.50 49.09h2v2h-2zM688.23 49.09h2v2h-2zM691.96 49.09h2v2h-2zM695.69 49.09h2v2h-2zM699.42 49.09h2v2h-2z"/>
<rect x="172.4" y="20" width="0.9" height="34" fill="#c8504d" fill-opacity="0.75"/>
<rect x="180.3" y="0" width="0.9" height="46" fill="#c8504d" fill-opacity="0.75"/>
<rect x="353.5" y="0" width="0.9" height="37.7" fill="#c8504d" fill-opacity="0.75"/>
<rect x="361.3" y="0" width="0.9" height="25.8" fill="#c8504d" fill-opacity="0.75"/>
<rect x="365.1" y="0" width="0.9" height="54" fill="#c8504d" fill-opacity="0.75"/>
<rect x="368.9" y="0" width="0.9" height="34" fill="#c8504d" fill-opacity="0.75"/>
<rect x="376.4" y="0" width="0.9" height="17.5" fill="#c8504d" fill-opacity="0.75"/>
<rect x="380.0" y="0" width="0.9" height="54" fill="#c8504d" fill-opacity="0.75"/>
<rect x="383.7" y="0" width="0.9" height="25.5" fill="#c8504d" fill-opacity="0.75"/>
<rect x="391.1" y="10" width="0.9" height="44" fill="#c8504d" fill-opacity="0.75"/>
<rect x="398.5" y="25" width="0.9" height="13.100000000000001" fill="#c8504d" fill-opacity="0.75"/>
<rect x="405.7" y="0" width="0.9" height="5" fill="#c8504d" fill-opacity="0.75"/>
<rect x="457.8" y="0" width="0.9" height="54" fill="#c8504d" fill-opacity="0.75"/>
<rect x="594.7" y="20" width="0.9" height="34" fill="#c8504d" fill-opacity="0.75"/>
<rect x="642.2" y="0" width="0.9" height="12" fill="#c8504d" fill-opacity="0.75"/>
<rect x="532.5" y="40" width="0.9" height="14" fill="#c8504d" fill-opacity="0.75"/>
<circle cx="180.8" cy="46" r="2.7" fill="#e86a6a" fill-opacity="0.45"/><circle cx="180.8" cy="46" r="1.9" fill="#d9534f"/>
<circle cx="329.3" cy="18.3" r="2.7" fill="#e86a6a" fill-opacity="0.45"/><circle cx="329.3" cy="18.3" r="1.9" fill="#d9534f"/>
<circle cx="349.4" cy="27.9" r="2.7" fill="#e86a6a" fill-opacity="0.45"/><circle cx="349.4" cy="27.9" r="1.9" fill="#d9534f"/>
<circle cx="354" cy="37.7" r="2.7" fill="#e86a6a" fill-opacity="0.45"/><circle cx="354" cy="37.7" r="1.9" fill="#d9534f"/>
<circle cx="361.8" cy="25.8" r="2.7" fill="#e86a6a" fill-opacity="0.45"/><circle cx="361.8" cy="25.8" r="1.9" fill="#d9534f"/>
<circle cx="365.6" cy="21.5" r="2.7" fill="#e86a6a" fill-opacity="0.45"/><circle cx="365.6" cy="21.5" r="1.9" fill="#d9534f"/>
<circle cx="369.4" cy="34" r="2.7" fill="#e86a6a" fill-opacity="0.45"/><circle cx="369.4" cy="34" r="1.9" fill="#d9534f"/>
<circle cx="365.6" cy="38" r="2.7" fill="#e86a6a" fill-opacity="0.45"/><circle cx="365.6" cy="38" r="1.9" fill="#d9534f"/>
<circle cx="376.9" cy="17.5" r="2.7" fill="#e86a6a" fill-opacity="0.45"/><circle cx="376.9" cy="17.5" r="1.9" fill="#d9534f"/>
<circle cx="380.5" cy="34" r="2.7" fill="#e86a6a" fill-opacity="0.45"/><circle cx="380.5" cy="34" r="1.9" fill="#d9534f"/>
<circle cx="384.2" cy="25.5" r="2.7" fill="#e86a6a" fill-opacity="0.45"/><circle cx="384.2" cy="25.5" r="1.9" fill="#d9534f"/>
<circle cx="391.6" cy="29.8" r="2.7" fill="#e86a6a" fill-opacity="0.45"/><circle cx="391.6" cy="29.8" r="1.9" fill="#d9534f"/>
<circle cx="399" cy="38.1" r="2.7" fill="#e86a6a" fill-opacity="0.45"/><circle cx="399" cy="38.1" r="1.9" fill="#d9534f"/>
<circle cx="391.6" cy="46.1" r="2.7" fill="#e86a6a" fill-opacity="0.45"/><circle cx="391.6" cy="46.1" r="1.9" fill="#d9534f"/>
<circle cx="402.7" cy="46.1" r="2.7" fill="#e86a6a" fill-opacity="0.45"/><circle cx="402.7" cy="46.1" r="1.9" fill="#d9534f"/>
<circle cx="410.3" cy="50.1" r="2.7" fill="#e86a6a" fill-opacity="0.45"/><circle cx="410.3" cy="50.1" r="1.9" fill="#d9534f"/>
<circle cx="380.5" cy="50.1" r="2.7" fill="#e86a6a" fill-opacity="0.45"/><circle cx="380.5" cy="50.1" r="1.9" fill="#d9534f"/>
<circle cx="395.2" cy="53.3" r="2.7" fill="#e86a6a" fill-opacity="0.45"/><circle cx="395.2" cy="53.3" r="1.9" fill="#d9534f"/>
<circle cx="406.2" cy="5" r="2.7" fill="#e86a6a" fill-opacity="0.45"/><circle cx="406.2" cy="5" r="1.9" fill="#d9534f"/>
<circle cx="428.5" cy="8.9" r="2.7" fill="#e86a6a" fill-opacity="0.45"/><circle cx="428.5" cy="8.9" r="1.9" fill="#d9534f"/>
<circle cx="458.3" cy="53" r="2.7" fill="#e86a6a" fill-opacity="0.45"/><circle cx="458.3" cy="53" r="1.9" fill="#d9534f"/>
<text x="168.8" y="23.6" text-anchor="end" font-family="Liberation Sans" font-size="4.0" font-weight="400" fill="#ffffff" fill-opacity="0.92" textLength="4.8" lengthAdjust="spacingAndGlyphs">USA</text>
<text x="168.8" y="27.8" text-anchor="end" font-family="Liberation Sans" font-size="4.0" font-weight="700" fill="#ffffff" fill-opacity="0.92" textLength="40.0" lengthAdjust="spacingAndGlyphs">THE RESEARCH INTELLIGENCE</text>
<text x="168.8" y="32.0" text-anchor="end" font-family="Liberation Sans" font-size="4.0" font-weight="700" fill="#ffffff" fill-opacity="0.92" textLength="19.2" lengthAdjust="spacingAndGlyphs">GROUP (TRIG)</text>
<text x="168.8" y="36.2" text-anchor="end" font-family="Liberation Sans" font-size="4.0" font-weight="400" fill="#ffffff" fill-opacity="0.92" textLength="20.4" lengthAdjust="spacingAndGlyphs">email@trig-us.com</text>
<text x="184.4" y="4.6" text-anchor="start" font-family="Liberation Sans" font-size="4.0" font-weight="400" fill="#ffffff" fill-opacity="0.92" textLength="8.7" lengthAdjust="spacingAndGlyphs">Canada</text>
<text x="184.4" y="8.8" text-anchor="start" font-family="Liberation Sans" font-size="4.0" font-weight="700" fill="#ffffff" fill-opacity="0.92" textLength="24.0" lengthAdjust="spacingAndGlyphs">LEGER MARKETING</text>
<text x="184.4" y="13.0" text-anchor="start" font-family="Liberation Sans" font-size="4.0" font-weight="400" fill="#ffffff" fill-opacity="0.92" textLength="28.8" lengthAdjust="spacingAndGlyphs">email@legermarketing.com</text>
<text x="324.6" y="16.6" text-anchor="end" font-family="Liberation Sans" font-size="4.0" font-weight="400" fill="#ffffff" fill-opacity="0.92" textLength="10.2" lengthAdjust="spacingAndGlyphs">Ireland</text>
<text x="324.6" y="20.8" text-anchor="end" font-family="Liberation Sans" font-size="4.0" font-weight="700" fill="#ffffff" fill-opacity="0.92" textLength="44.8" lengthAdjust="spacingAndGlyphs">RED C RESEARCH AND MARKETING</text>
<text x="324.6" y="25.0" text-anchor="end" font-family="Liberation Sans" font-size="4.0" font-weight="400" fill="#ffffff" fill-opacity="0.92" textLength="25.2" lengthAdjust="spacingAndGlyphs">email@redcresearch.ie</text>
<text x="343.7" y="28.6" text-anchor="end" font-family="Liberation Sans" font-size="4.0" font-weight="400" fill="#ffffff" fill-opacity="0.92" textLength="3.2" lengthAdjust="spacingAndGlyphs">UK</text>
<text x="343.7" y="32.8" text-anchor="end" font-family="Liberation Sans" font-size="4.0" font-weight="700" fill="#ffffff" fill-opacity="0.92" textLength="19.2" lengthAdjust="spacingAndGlyphs">ICM RESEARCH</text>
<text x="343.7" y="37.0" text-anchor="end" font-family="Liberation Sans" font-size="4.0" font-weight="400" fill="#ffffff" fill-opacity="0.92" textLength="31.2" lengthAdjust="spacingAndGlyphs">ben.page@icmresearch.co.uk</text>
<text x="349.6" y="3.1" text-anchor="end" font-family="Liberation Sans" font-size="4.0" font-weight="400" fill="#ffffff" fill-opacity="0.92" textLength="4.3" lengthAdjust="spacingAndGlyphs">BiH</text>
<text x="349.6" y="7.3" text-anchor="end" font-family="Liberation Sans" font-size="4.0" font-weight="400" fill="#ffffff" fill-opacity="0.92" textLength="18.0" lengthAdjust="spacingAndGlyphs">email@mareco.ba</text>
<text x="434" y="9.6" text-anchor="start" font-family="Liberation Sans" font-size="4.0" font-weight="400" fill="#ffffff" fill-opacity="0.92" textLength="8.7" lengthAdjust="spacingAndGlyphs">Russia</text>
<text x="434" y="13.8" text-anchor="start" font-family="Liberation Sans" font-size="4.0" font-weight="700" fill="#ffffff" fill-opacity="0.92" textLength="8.0" lengthAdjust="spacingAndGlyphs">ROMIR</text>
<text x="434" y="18.0" text-anchor="start" font-family="Liberation Sans" font-size="4.0" font-weight="400" fill="#ffffff" fill-opacity="0.92" textLength="16.8" lengthAdjust="spacingAndGlyphs">email@romir.ru</text>
<text x="395" y="13.6" text-anchor="start" font-family="Liberation Sans" font-size="4.0" font-weight="400" fill="#ffffff" fill-opacity="0.92" textLength="20.3" lengthAdjust="spacingAndGlyphs">Czech Republic</text>
<text x="395" y="17.8" text-anchor="start" font-family="Liberation Sans" font-size="4.0" font-weight="700" fill="#ffffff" fill-opacity="0.92" textLength="14.4" lengthAdjust="spacingAndGlyphs">NMS PRAHA</text>
<text x="395" y="22.0" text-anchor="start" font-family="Liberation Sans" font-size="4.0" font-weight="400" fill="#ffffff" fill-opacity="0.92" textLength="14.4" lengthAdjust="spacingAndGlyphs">email@nms.cz</text>
<text x="403" y="28.6" text-anchor="start" font-family="Liberation Sans" font-size="4.0" font-weight="400" fill="#ffffff" fill-opacity="0.92" textLength="8.7" lengthAdjust="spacingAndGlyphs">Serbia</text>
<text x="403" y="32.8" text-anchor="start" font-family="Liberation Sans" font-size="4.0" font-weight="700" fill="#ffffff" fill-opacity="0.92" textLength="27.2" lengthAdjust="spacingAndGlyphs">TNS MEDIUM GALLUP</text>
<text x="403" y="37.0" text-anchor="start" font-family="Liberation Sans" font-size="4.0" font-weight="400" fill="#ffffff" fill-opacity="0.92" textLength="45.6" lengthAdjust="spacingAndGlyphs">drasko.kovacevic@tnsmediumgallup.co.rs</text>
<text x="416" y="44.6" text-anchor="start" font-family="Liberation Sans" font-size="4.0" font-weight="400" fill="#ffffff" fill-opacity="0.92" textLength="10.2" lengthAdjust="spacingAndGlyphs">Romania</text>
<text x="416" y="48.8" text-anchor="start" font-family="Liberation Sans" font-size="4.0" font-weight="700" fill="#ffffff" fill-opacity="0.92" textLength="38.4" lengthAdjust="spacingAndGlyphs">CENTRAL PENTRU STUDIEREA</text>
<text x="416" y="53.0" text-anchor="start" font-family="Liberation Sans" font-size="4.0" font-weight="700" fill="#ffffff" fill-opacity="0.92" textLength="38.4" lengthAdjust="spacingAndGlyphs">OPINIEI SI PIETEI (CSOP)</text>
<text x="462" y="4.3" text-anchor="start" font-family="Liberation Sans" font-size="4.0" font-weight="400" fill="#ffffff" fill-opacity="0.92" textLength="18.0" lengthAdjust="spacingAndGlyphs">email@gallup.ru</text>
<text x="533" y="46.6" text-anchor="start" font-family="Liberation Sans" font-size="4.0" font-weight="400" fill="#ffffff" fill-opacity="0.92" textLength="7.2" lengthAdjust="spacingAndGlyphs">India</text>
<text x="533" y="50.8" text-anchor="start" font-family="Liberation Sans" font-size="4.0" font-weight="700" fill="#ffffff" fill-opacity="0.92" textLength="36.8" lengthAdjust="spacingAndGlyphs">MONITORING AND RESEARCH</text>
<text x="533" y="55.0" text-anchor="start" font-family="Liberation Sans" font-size="4.0" font-weight="700" fill="#ffffff" fill-opacity="0.92" textLength="17.6" lengthAdjust="spacingAndGlyphs">INDIA (MRI)</text>
<text x="639" y="2.6" text-anchor="end" font-family="Liberation Sans" font-size="4.0" font-weight="400" fill="#ffffff" fill-opacity="0.92" textLength="7.2" lengthAdjust="spacingAndGlyphs">Korea</text>
<text x="639" y="6.8" text-anchor="end" font-family="Liberation Sans" font-size="4.0" font-weight="700" fill="#ffffff" fill-opacity="0.92" textLength="19.2" lengthAdjust="spacingAndGlyphs">GALLUP KOREA</text>
<text x="639" y="11.0" text-anchor="end" font-family="Liberation Sans" font-size="4.0" font-weight="400" fill="#ffffff" fill-opacity="0.92" textLength="21.6" lengthAdjust="spacingAndGlyphs">email@gallup.co.kr</text>
<text x="592" y="22.6" text-anchor="end" font-family="Liberation Sans" font-size="4.0" font-weight="400" fill="#ffffff" fill-opacity="0.92" textLength="7.2" lengthAdjust="spacingAndGlyphs">China</text>
<text x="592" y="26.8" text-anchor="end" font-family="Liberation Sans" font-size="4.0" font-weight="700" fill="#ffffff" fill-opacity="0.92" textLength="19.2" lengthAdjust="spacingAndGlyphs">WIN RESEARCH</text>
<text x="592" y="31.0" text-anchor="end" font-family="Liberation Sans" font-size="4.0" font-weight="400" fill="#ffffff" fill-opacity="0.92" textLength="19.2" lengthAdjust="spacingAndGlyphs">email@win.com.cn</text>
</svg>
<div class="box" style="left:57px;top:101px;width:318px;height:190px"></div>
<div class="grid" style="left:68px;width:296.0px;top:221.03px"></div>
<div class="grid" style="left:68px;width:296.0px;top:204.37px"></div>
<div class="grid" style="left:68px;width:296.0px;top:187.70px"></div>
<div class="grid" style="left:68px;width:296.0px;top:171.03px"></div>
<div class="grid" style="left:68px;width:296.0px;top:154.37px"></div>
<div class="grid" style="left:68px;width:296.0px;top:137.70px"></div>
<div class="bar" style="left:80.30px;top:183.20px;width:37.00px;height:55.00px;background:#4b6aa5;border-right:1px solid rgba(255,255,255,0.5)"></div>
<div class="lab" style="left:80.30px;width:37.00px;top:190.90px">33%</div>
<div class="bar" style="left:117.30px;top:191.53px;width:37.00px;height:46.67px;background:#00aeef;border-right:1px solid rgba(255,255,255,0.5)"></div>
<div class="lab" style="left:117.30px;width:37.00px;top:199.23px">28%</div>
<div class="bar" style="left:178.97px;top:151.53px;width:37.00px;height:86.67px;background:#4b6aa5;border-right:1px solid rgba(255,255,255,0.5)"></div>
<div class="lab" style="left:178.97px;width:37.00px;top:159.23px">52%</div>
<div class="bar" style="left:215.97px;top:144.87px;width:37.00px;height:93.33px;background:#00aeef;border-right:1px solid rgba(255,255,255,0.5)"></div>
<div class="lab" style="left:215.97px;width:37.00px;top:152.57px">56%</div>
<div class="bar" style="left:277.63px;top:213.20px;width:37.00px;height:25.00px;background:#4b6aa5;border-right:1px solid rgba(255,255,255,0.5)"></div>
<div class="lab" style="left:277.63px;width:37.00px;top:220.90px">15%</div>
<div class="bar" style="left:314.63px;top:209.87px;width:37.00px;height:28.33px;background:#00aeef;border-right:1px solid rgba(255,255,255,0.5)"></div>
<div class="lab" style="left:314.63px;width:37.00px;top:217.57px">17%</div>
<div class="axis" style="left:68px;width:296.0px;top:237.20px"></div>
<div style="position:absolute;left:78px;top:269.7px;width:6px;height:6px;background:#4b6aa5"></div>
<div style="position:absolute;left:122.5px;top:269.7px;width:6px;height:6px;background:#00aeef"></div>
<div class="box" style="left:388px;top:101px;width:319px;height:190px"></div>
<div class="grid" style="left:399px;width:296.3px;top:221.20px"></div>
<div class="grid" style="left:399px;width:296.3px;top:204.50px"></div>
<div class="grid" style="left:399px;width:296.3px;top:187.80px"></div>
<div class="grid" style="left:399px;width:296.3px;top:171.10px"></div>
<div class="grid" style="left:399px;width:296.3px;top:154.40px"></div>
<div class="grid" style="left:399px;width:296.3px;top:137.70px"></div>
<div class="bar" style="left:411.30px;top:184.96px;width:37.00px;height:53.44px;background:#4b6aa5;border-right:1px solid rgba(255,255,255,0.5)"></div>
<div class="lab" style="left:411.30px;width:37.00px;top:192.66px">32%</div>
<div class="bar" style="left:448.30px;top:193.31px;width:37.00px;height:45.09px;background:#00aeef;border-right:1px solid rgba(255,255,255,0.5)"></div>
<div class="lab" style="left:448.30px;width:37.00px;top:201.01px">27%</div>
<div class="bar" style="left:510.07px;top:159.91px;width:37.00px;height:78.49px;background:#4b6aa5;border-right:1px solid rgba(255,255,255,0.5)"></div>
<div class="lab" style="left:510.07px;width:37.00px;top:167.61px">47%</div>
<div class="bar" style="left:547.07px;top:151.56px;width:37.00px;height:86.84px;background:#00aeef;border-right:1px solid rgba(255,255,255,0.5)"></div>
<div class="lab" style="left:547.07px;width:37.00px;top:159.26px">52%</div>
<div class="bar" style="left:608.83px;top:203.33px;width:37.00px;height:35.07px;background:#4b6aa5;border-right:1px solid rgba(255,255,255,0.5)"></div>
<div class="lab" style="left:608.83px;width:37.00px;top:211.03px">21%</div>
<div class="bar" style="left:645.83px;top:203.33px;width:37.00px;height:35.07px;background:#00aeef;border-right:1px solid rgba(255,255,255,0.5)"></div>
<div class="lab" style="left:645.83px;width:37.00px;top:211.03px">21%</div>
<div class="axis" style="left:399px;width:296.3px;top:237.40px"></div>
<div style="position:absolute;left:409px;top:269.7px;width:6px;height:6px;background:#4b6aa5"></div>
<div style="position:absolute;left:453.5px;top:269.7px;width:6px;height:6px;background:#00aeef"></div>
<div class="box" style="left:57px;top:301px;width:319px;height:189.5px"></div>
<div class="grid" style="left:69px;width:296.5px;top:417.60px"></div>
<div class="grid" style="left:69px;width:296.5px;top:397.50px"></div>
<div class="grid" style="left:69px;width:296.5px;top:377.40px"></div>
<div class="grid" style="left:69px;width:296.5px;top:357.30px"></div>
<div class="grid" style="left:69px;width:296.5px;top:337.20px"></div>
<div class="bar" style="left:81.30px;top:373.88px;width:37.00px;height:64.32px;background:#4b6aa5;border-right:1px solid rgba(255,255,255,0.5)"></div>
<div class="lab" style="left:81.30px;width:37.00px;top:381.58px">32%</div>
<div class="bar" style="left:118.30px;top:375.89px;width:37.00px;height:62.31px;background:#00aeef;border-right:1px solid rgba(255,255,255,0.5)"></div>
<div class="lab" style="left:118.30px;width:37.00px;top:383.59px">31%</div>
<div class="bar" style="left:180.13px;top:343.73px;width:37.00px;height:94.47px;background:#4b6aa5;border-right:1px solid rgba(255,255,255,0.5)"></div>
<div class="lab" style="left:180.13px;width:37.00px;top:351.43px">47%</div>
<div class="bar" style="left:217.13px;top:353.78px;width:37.00px;height:84.42px;background:#00aeef;border-right:1px solid rgba(255,255,255,0.5)"></div>
<div class="lab" style="left:217.13px;width:37.00px;top:361.48px">42%</div>
<div class="bar" style="left:278.97px;top:395.99px;width:37.00px;height:42.21px;background:#4b6aa5;border-right:1px solid rgba(255,255,255,0.5)"></div>
<div class="lab" style="left:278.97px;width:37.00px;top:403.69px">21%</div>
<div class="bar" style="left:315.97px;top:383.93px;width:37.00px;height:54.27px;background:#00aeef;border-right:1px solid rgba(255,255,255,0.5)"></div>
<div class="lab" style="left:315.97px;width:37.00px;top:391.63px">27%</div>
<div class="axis" style="left:69px;width:296.5px;top:437.20px"></div>
<div style="position:absolute;left:78px;top:470.0px;width:6px;height:6px;background:#4b6aa5"></div>
<div style="position:absolute;left:122.5px;top:470.0px;width:6px;height:6px;background:#00aeef"></div>
<div class="box" style="left:389px;top:301px;width:319px;height:189.5px"></div>
<div class="grid" style="left:400.2px;width:296.1px;top:416.86px"></div>
<div class="grid" style="left:400.2px;width:296.1px;top:396.92px"></div>
<div class="grid" style="left:400.2px;width:296.1px;top:376.98px"></div>
<div class="grid" style="left:400.2px;width:296.1px;top:357.04px"></div>
<div class="grid" style="left:400.2px;width:296.1px;top:337.10px"></div>
<div class="bar" style="left:412.50px;top:353.55px;width:37.00px;height:83.75px;background:#4b6aa5;border-right:1px solid rgba(255,255,255,0.5)"></div>
<div class="lab" style="left:412.50px;width:37.00px;top:361.25px">42%</div>
<div class="bar" style="left:449.50px;top:347.57px;width:37.00px;height:89.73px;background:#00aeef;border-right:1px solid rgba(255,255,255,0.5)"></div>
<div class="lab" style="left:449.50px;width:37.00px;top:355.27px">45%</div>
<div class="bar" style="left:511.20px;top:371.50px;width:37.00px;height:65.80px;background:#4b6aa5;border-right:1px solid rgba(255,255,255,0.5)"></div>
<div class="lab" style="left:511.20px;width:37.00px;top:379.20px">33%</div>
<div class="bar" style="left:548.20px;top:375.49px;width:37.00px;height:61.81px;background:#00aeef;border-right:1px solid rgba(255,255,255,0.5)"></div>
<div class="lab" style="left:548.20px;width:37.00px;top:383.19px">31%</div>
<div class="bar" style="left:609.90px;top:387.45px;width:37.00px;height:49.85px;background:#4b6aa5;border-right:1px solid rgba(255,255,255,0.5)"></div>
<div class="lab" style="left:609.90px;width:37.00px;top:395.15px">25%</div>
<div class="bar" style="left:646.90px;top:389.44px;width:37.00px;height:47.86px;background:#00aeef;border-right:1px solid rgba(255,255,255,0.5)"></div>
<div class="lab" style="left:646.90px;width:37.00px;top:397.14px">24%</div>
<div class="axis" style="left:400.2px;width:296.1px;top:436.30px"></div>
<div style="position:absolute;left:410px;top:470.0px;width:6px;height:6px;background:#4b6aa5"></div>
<div style="position:absolute;left:454.5px;top:470.0px;width:6px;height:6px;background:#00aeef"></div>
<div class="t" style="left:132.10px;top:53.64px;font-family:'Liberation Sans';font-size:12.0px;font-weight:400;font-style:normal;color:#262626;letter-spacing:0.344px;">Какво е Вашето мнение за международните политики на следните четири суперсили:</div>
<div class="t" style="left:203.10px;top:70.30px;font-family:'Liberation Sans';font-size:12.4px;font-weight:400;font-style:normal;color:#262626;letter-spacing:0.000px;transform:scaleX(0.9960);transform-origin:0 0;">Дали те са стабилизиращи или са дестабилизиращи за света?</div>
<div class="t" style="left:201.40px;top:111.28px;font-family:'Liberation Sans';font-size:12.9px;font-weight:700;font-style:normal;color:#404040;letter-spacing:0.000px;transform:scaleX(0.8938);transform-origin:0 0;">САЩ</div>
<div class="t" style="left:79.70px;top:247.53px;font-family:'Liberation Sans';font-size:10.0px;font-weight:400;font-style:normal;color:#595959;letter-spacing:0.000px;transform:scaleX(0.9548);transform-origin:0 0;">СТРАБИЛИЗИРА</div>
<div class="t" style="left:175.00px;top:247.53px;font-family:'Liberation Sans';font-size:10.0px;font-weight:400;font-style:normal;color:#595959;letter-spacing:0.000px;transform:scaleX(0.9526);transform-origin:0 0;">ДЕСТАБИЛИЗИРА</div>
<div class="t" style="left:300.00px;top:247.53px;font-family:'Liberation Sans';font-size:10.0px;font-weight:400;font-style:normal;color:#595959;letter-spacing:0.000px;transform:scaleX(0.9577);transform-origin:0 0;">НЗ/БО</div>
<div class="t" style="left:87.50px;top:266.59px;font-family:'Liberation Sans';font-size:11.0px;font-weight:400;font-style:normal;color:#595959;letter-spacing:0.000px;transform:scaleX(0.9108);transform-origin:0 0;">2020</div>
<div class="t" style="left:132.00px;top:266.59px;font-family:'Liberation Sans';font-size:11.0px;font-weight:400;font-style:normal;color:#595959;letter-spacing:0.000px;transform:scaleX(0.9190);transform-origin:0 0;">2018</div>
<div class="t" style="left:528.60px;top:111.68px;font-family:'Liberation Sans';font-size:12.9px;font-weight:700;font-style:normal;color:#404040;letter-spacing:0.000px;transform:scaleX(0.8533);transform-origin:0 0;">РУСИЯ</div>
<div class="t" style="left:412.90px;top:247.64px;font-family:'Liberation Sans';font-size:10.0px;font-weight:400;font-style:normal;color:#595959;letter-spacing:0.000px;transform:scaleX(0.9610);transform-origin:0 0;">СТАБИЛИЗИРА</div>
<div class="t" style="left:505.90px;top:247.64px;font-family:'Liberation Sans';font-size:10.0px;font-weight:400;font-style:normal;color:#595959;letter-spacing:0.000px;transform:scaleX(0.9503);transform-origin:0 0;">ДЕСТАБИЛИЗИРА</div>
<div class="t" style="left:631.40px;top:247.64px;font-family:'Liberation Sans';font-size:10.0px;font-weight:400;font-style:normal;color:#595959;letter-spacing:0.000px;transform:scaleX(0.9610);transform-origin:0 0;">НЗ/БО</div>
<div class="t" style="left:418.50px;top:266.59px;font-family:'Liberation Sans';font-size:11.0px;font-weight:400;font-style:normal;color:#595959;letter-spacing:0.000px;transform:scaleX(0.9108);transform-origin:0 0;">2020</div>
<div class="t" style="left:463.00px;top:266.59px;font-family:'Liberation Sans';font-size:11.0px;font-weight:400;font-style:normal;color:#595959;letter-spacing:0.000px;transform:scaleX(0.9190);transform-origin:0 0;">2018</div>
<div class="t" style="left:197.90px;top:311.68px;font-family:'Liberation Sans';font-size:12.9px;font-weight:700;font-style:normal;color:#404040;letter-spacing:0.000px;transform:scaleX(0.9210);transform-origin:0 0;">КИТАЙ</div>
<div class="t" style="left:84.00px;top:447.44px;font-family:'Liberation Sans';font-size:10.0px;font-weight:400;font-style:normal;color:#595959;letter-spacing:0.000px;transform:scaleX(0.9445);transform-origin:0 0;">СТАБИЛИЗИРА</div>
<div class="t" style="left:175.90px;top:447.44px;font-family:'Liberation Sans';font-size:10.0px;font-weight:400;font-style:normal;color:#595959;letter-spacing:0.000px;transform:scaleX(0.9514);transform-origin:0 0;">ДЕСТАБИЛИЗИРА</div>
<div class="t" style="left:301.60px;top:447.44px;font-family:'Liberation Sans';font-size:10.0px;font-weight:400;font-style:normal;color:#595959;letter-spacing:0.000px;transform:scaleX(0.9676);transform-origin:0 0;">НЗ/БО</div>
<div class="t" style="left:87.50px;top:466.89px;font-family:'Liberation Sans';font-size:11.0px;font-weight:400;font-style:normal;color:#595959;letter-spacing:0.000px;transform:scaleX(0.9108);transform-origin:0 0;">2020</div>
<div class="t" style="left:132.00px;top:466.89px;font-family:'Liberation Sans';font-size:11.0px;font-weight:400;font-style:normal;color:#595959;letter-spacing:0.000px;transform:scaleX(0.9190);transform-origin:0 0;">2018</div>
<div class="t" style="left:489.10px;top:311.58px;font-family:'Liberation Sans';font-size:12.9px;font-weight:700;font-style:normal;color:#404040;letter-spacing:0.000px;transform:scaleX(0.8666);transform-origin:0 0;">ЕВРОПЕЙСКИ СЪЮЗ</div>
<div class="t" style="left:414.60px;top:447.44px;font-family:'Liberation Sans';font-size:10.0px;font-weight:400;font-style:normal;color:#595959;letter-spacing:0.000px;transform:scaleX(0.9569);transform-origin:0 0;">СТАБИЛИЗИРА</div>
<div class="t" style="left:507.20px;top:447.44px;font-family:'Liberation Sans';font-size:10.0px;font-weight:400;font-style:normal;color:#595959;letter-spacing:0.000px;transform:scaleX(0.9584);transform-origin:0 0;">ДЕСТАБИЛИЗИРА</div>
<div class="t" style="left:633.00px;top:447.44px;font-family:'Liberation Sans';font-size:10.0px;font-weight:400;font-style:normal;color:#595959;letter-spacing:0.000px;transform:scaleX(0.9676);transform-origin:0 0;">НЗ/БО</div>
<div class="t" style="left:419.50px;top:466.89px;font-family:'Liberation Sans';font-size:11.0px;font-weight:400;font-style:normal;color:#595959;letter-spacing:0.000px;transform:scaleX(0.9108);transform-origin:0 0;">2020</div>
<div class="t" style="left:464.00px;top:466.89px;font-family:'Liberation Sans';font-size:11.0px;font-weight:400;font-style:normal;color:#595959;letter-spacing:0.000px;transform:scaleX(0.9190);transform-origin:0 0;">2018</div>
<div class="t" style="left:158.10px;top:498.36px;font-family:'Liberation Sans';font-size:8.2px;font-weight:400;font-style:normal;color:#262626;letter-spacing:0.375px;">Изследвания „В края на годината“ на световната асоциация „Галъп интернешънъл“  2020, 2018</div>
<div class="t" style="left:312.6px;top:87.0px;font-family:'Liberation Sans';font-size:12.4px;font-weight:700;color:#1f7bc7;transform:scaleX(0.965);transform-origin:0 0;">О<span style="font-size:9.5px">БОБЩЕНИ ДАННИ ЗА СВЕТА</span></div>

<div style="position:absolute;left:642px;top:12.7px;width:117.5px;height:55.5px;box-sizing:border-box;background:#1b5eb3;border:1px solid #e8eef6;"></div>
<div style="position:absolute;left:648.4px;top:21.8px;width:105px;height:1.8px;background:#fff;"></div>
<div class="t" style="left:645.8px;top:22.6px;font-family:'Liberation Serif';font-size:26.4px;font-weight:400;color:#fff;letter-spacing:0.75px;-webkit-text-stroke:0.45px #fff;">GALLUP</div>
<div style="position:absolute;left:648.4px;top:46.7px;width:104.5px;height:10.9px;background:#fff;"></div>
<div class="t" style="left:651.5px;top:48.3px;font-family:'Liberation Serif';font-size:8.6px;font-weight:700;font-style:italic;color:#1b5eb3;letter-spacing:2.45px;">INTERNATIONAL</div>
<div class="t" style="left:712.5px;top:59.2px;font-family:'Liberation Serif';font-size:6.6px;font-style:italic;font-weight:700;color:#fff;">founded 1947</div>

<div style="position:absolute;left:0;top:510px;width:768px;height:22px;background:#0b3f95;"></div>
<svg style="position:absolute;left:0;top:0" width="768" height="532" viewBox="0 0 768 532">
<rect x="13.90" y="516.50" width="12.10" height="10.00" fill="#e41e20"/><circle cx="19.95" cy="521.50" r="2.20" fill="#111111"/>
<rect x="26.00" y="516.50" width="18.80" height="3.38" fill="#74acdf"/><rect x="26.00" y="519.83" width="18.80" height="3.38" fill="#ffffff"/><rect x="26.00" y="523.17" width="18.80" height="3.38" fill="#74acdf"/><circle cx="35.40" cy="521.50" r="1.00" fill="#c9a227"/>
<rect x="44.80" y="516.50" width="17.70" height="10.00" fill="#00247d"/><rect x="44.80" y="516.50" width="7.97" height="5.00" fill="#6a3a6e"/><rect x="48.34" y="516.50" width="1.06" height="5.00" fill="#e8112d"/><rect x="44.80" y="518.70" width="7.97" height="0.80" fill="#e8112d"/><circle cx="49.22" cy="524.00" r="0.90" fill="#ffffff"/><circle cx="57.19" cy="519.50" r="0.60" fill="#ffffff"/><circle cx="58.96" cy="522.50" r="0.60" fill="#ffffff"/><circle cx="56.30" cy="524.50" r="0.60" fill="#ffffff"/>
<rect x="62.90" y="516.50" width="13.40" height="3.38" fill="#e8112d"/><rect x="62.90" y="519.83" width="13.40" height="3.38" fill="#ffffff"/><rect x="62.90" y="523.17" width="13.40" height="3.38" fill="#e8112d"/>
<rect x="76.30" y="516.50" width="15.60" height="10.00" fill="#ce1126"/><rect x="76.30" y="516.50" width="3.20" height="10.00" fill="#ffffff"/>
<rect x="92.30" y="516.50" width="3.38" height="10.00" fill="#111111"/><rect x="95.63" y="516.50" width="3.38" height="10.00" fill="#fcd116"/><rect x="98.97" y="516.50" width="3.38" height="10.00" fill="#ef3340"/>
<rect x="102.30" y="516.50" width="17.60" height="10.00" fill="#2f6fc8"/><polygon points="107.93,516.5 116.03,516.5 116.03,526.5" fill="#fecb00"/><line x1="106.17" y1="516.5" x2="114.27" y2="526.5" stroke="#e8eef8" stroke-width="0.9"/>
<rect x="121.00" y="516.50" width="12.60" height="10.00" fill="#229e45"/><polygon points="122,521.5 127.3,517.5 132.6,521.5 127.3,525.5" fill="#f8e509"/><circle cx="127.30" cy="521.50" r="2.20" fill="#2b49a3"/>
<rect x="133.60" y="516.50" width="13.70" height="3.38" fill="#ffffff"/><rect x="133.60" y="519.83" width="13.70" height="3.38" fill="#00966e"/><rect x="133.60" y="523.17" width="13.70" height="3.38" fill="#d62612"/>
<rect x="147.30" y="516.50" width="4.78" height="10.00" fill="#007a5e"/><rect x="152.03" y="516.50" width="4.78" height="10.00" fill="#ce1126"/><rect x="156.77" y="516.50" width="4.78" height="10.00" fill="#fcd116"/><circle cx="154.40" cy="521.50" r="0.80" fill="#fcd116"/>
<rect x="161.50" y="516.50" width="4.42" height="10.00" fill="#e8112d"/><rect x="165.88" y="516.50" width="8.80" height="10.00" fill="#ffffff"/><rect x="174.62" y="516.50" width="4.42" height="10.00" fill="#e8112d"/><polygon points="170.25,518.70 172.55,521.70 170.65,522.70 170.65,524.50 169.85,524.50 169.85,522.70 167.95,521.70" fill="#e8112d"/>
<rect x="179.00" y="516.50" width="13.70" height="10.00" fill="#de2910"/><circle cx="182.00" cy="519.50" r="1.20" fill="#ffde00"/><circle cx="185.00" cy="518.50" r="0.50" fill="#ffde00"/><circle cx="185.50" cy="521.00" r="0.50" fill="#ffde00"/>
<rect x="192.70" y="516.50" width="13.70" height="5.05" fill="#fcd116"/><rect x="192.70" y="521.50" width="13.70" height="2.55" fill="#003893"/><rect x="192.70" y="524.00" width="13.70" height="2.55" fill="#ce1126"/>
<rect x="206.40" y="516.50" width="18.60" height="3.38" fill="#e8112d"/><rect x="206.40" y="519.83" width="18.60" height="3.38" fill="#ffffff"/><rect x="206.40" y="523.17" width="18.60" height="3.38" fill="#171796"/><rect x="214.20" y="519.00" width="3.00" height="4.00" fill="#e57f7f"/>
<rect x="225.00" y="516.50" width="13.20" height="5.05" fill="#ffffff"/><rect x="225.00" y="521.50" width="13.20" height="5.05" fill="#d7141a"/><polygon points="225,516.5 231.6,521.5 225,526.5" fill="#11457e"/>
<rect x="238.20" y="516.50" width="18.30" height="5.05" fill="#ffdd00"/><rect x="238.20" y="521.50" width="18.30" height="2.55" fill="#034ea2"/><rect x="238.20" y="524.00" width="18.30" height="2.55" fill="#ed1c24"/><circle cx="247.35" cy="521.00" r="1.60" fill="#6b5a2a"/>
<rect x="256.50" y="516.50" width="11.00" height="10.00" fill="#c8102e"/><rect x="260.35" y="516.50" width="1.40" height="10.00" fill="#ffffff"/><rect x="256.50" y="520.80" width="11.00" height="1.40" fill="#ffffff"/>
<rect x="267.50" y="516.50" width="13.70" height="3.38" fill="#ce1126"/><rect x="267.50" y="519.83" width="13.70" height="3.38" fill="#ffffff"/><rect x="267.50" y="523.17" width="13.70" height="3.38" fill="#111111"/><circle cx="274.35" cy="521.50" r="0.80" fill="#c09300"/>
<rect x="281.20" y="516.50" width="15.60" height="10.00" fill="#ffffff"/><rect x="286.19" y="516.50" width="2.20" height="10.00" fill="#003580"/><rect x="281.20" y="520.40" width="15.60" height="2.20" fill="#003580"/>
<rect x="298.00" y="516.50" width="3.98" height="10.00" fill="#0055a4"/><rect x="301.93" y="516.50" width="3.98" height="10.00" fill="#ffffff"/><rect x="305.87" y="516.50" width="3.98" height="10.00" fill="#ef4135"/>
<rect x="309.80" y="516.50" width="15.20" height="3.38" fill="#111111"/><rect x="309.80" y="519.83" width="15.20" height="3.38" fill="#dd0000"/><rect x="309.80" y="523.17" width="15.20" height="3.38" fill="#ffce00"/>
<rect x="325.00" y="516.50" width="13.80" height="3.38" fill="#ce1126"/><rect x="325.00" y="519.83" width="13.80" height="3.38" fill="#fcd116"/><rect x="325.00" y="523.17" width="13.80" height="3.38" fill="#006b3f"/><circle cx="331.90" cy="521.50" r="0.90" fill="#111111"/>
<rect x="338.80" y="516.50" width="17.80" height="10.00" fill="#1a9a3e"/><circle cx="347.70" cy="521.50" r="2.60" fill="#c8b070"/><circle cx="347.70" cy="521.50" r="1.60" fill="#3a6e8a"/>
<rect x="356.60" y="516.50" width="13.70" height="10.00" fill="#de2910"/><circle cx="363.45" cy="521.50" r="2.30" fill="#ffffff"/><circle cx="363.45" cy="521.50" r="0.80" fill="#de2910"/>
<rect x="370.30" y="516.50" width="13.00" height="10.00" fill="#02529c"/><rect x="374.20" y="516.50" width="2.40" height="10.00" fill="#ffffff"/><rect x="370.30" y="520.30" width="13.00" height="2.40" fill="#ffffff"/><rect x="374.80" y="516.50" width="1.20" height="10.00" fill="#dc1e35"/><rect x="370.30" y="520.90" width="13.00" height="1.20" fill="#dc1e35"/>
<rect x="383.30" y="516.50" width="13.70" height="3.38" fill="#ff9933"/><rect x="383.30" y="519.83" width="13.70" height="3.38" fill="#ffffff"/><rect x="383.30" y="523.17" width="13.70" height="3.38" fill="#138808"/><circle cx="390.15" cy="521.50" r="0.90" fill="#000080"/>
<rect x="397.00" y="516.50" width="13.80" height="5.05" fill="#ce1126"/><rect x="397.00" y="521.50" width="13.80" height="5.05" fill="#ffffff"/>
<rect x="410.80" y="516.50" width="13.70" height="3.38" fill="#ce1126"/><rect x="410.80" y="519.83" width="13.70" height="3.38" fill="#ffffff"/><rect x="410.80" y="523.17" width="13.70" height="3.38" fill="#111111"/><rect x="415.65" y="521.00" width="4.00" height="1.00" fill="#007a3d"/>
<rect x="424.50" y="516.50" width="4.62" height="10.00" fill="#009246"/><rect x="429.07" y="516.50" width="4.62" height="10.00" fill="#ffffff"/><rect x="433.63" y="516.50" width="4.62" height="10.00" fill="#ce2b37"/>
<rect x="438.20" y="516.50" width="13.00" height="10.00" fill="#ffffff"/><circle cx="444.70" cy="521.50" r="2.60" fill="#bc002d"/>
<rect x="451.20" y="516.50" width="14.10" height="10.00" fill="#ffffff"/><circle cx="458.25" cy="521.50" r="2.40" fill="#cd2e3a"/><path d="M455.85 521.50 a2.4 2.4 0 0 0 4.8 0z" fill="#0047a0"/><rect x="452.20" y="517.50" width="2.00" height="2.00" fill="#555"/><rect x="462.30" y="517.50" width="2.00" height="2.00" fill="#555"/><rect x="452.20" y="523.50" width="2.00" height="2.00" fill="#555"/><rect x="462.30" y="523.50" width="2.00" height="2.00" fill="#555"/>
<rect x="465.30" y="516.50" width="18.60" height="10.00" fill="#d20000"/><polygon points="474.6,521.5 465.30,518.00 465.30,516.50 467.50,516.50" fill="#ffe600"/><polygon points="474.6,521.5 483.90,518.00 483.90,516.50 481.70,516.50" fill="#ffe600"/><polygon points="474.6,521.5 465.30,525.00 465.30,526.50 467.50,526.50" fill="#ffe600"/><polygon points="474.6,521.5 483.90,525.00 483.90,526.50 481.70,526.50" fill="#ffe600"/><rect x="473.80" y="516.50" width="1.60" height="10.00" fill="#ffe600"/><rect x="465.30" y="520.70" width="18.60" height="1.60" fill="#ffe600"/><circle cx="474.60" cy="521.50" r="1.80" fill="#ffe600"/>
<rect x="483.90" y="516.50" width="18.20" height="1.48" fill="#e8a0a0"/><rect x="483.90" y="517.93" width="18.20" height="1.48" fill="#f5d5c8"/><rect x="483.90" y="519.36" width="18.20" height="1.48" fill="#e8a0a0"/><rect x="483.90" y="520.79" width="18.20" height="1.48" fill="#f5d5c8"/><rect x="483.90" y="522.21" width="18.20" height="1.48" fill="#e8a0a0"/><rect x="483.90" y="523.64" width="18.20" height="1.48" fill="#f5d5c8"/><rect x="483.90" y="525.07" width="18.20" height="1.48" fill="#e8a0a0"/><rect x="483.90" y="516.50" width="9.10" height="5.50" fill="#1a2a6e"/><circle cx="487.90" cy="519.20" r="1.40" fill="#ffcc00"/><circle cx="488.63" cy="519.00" r="1.10" fill="#1a2a6e"/>
<rect x="502.10" y="516.50" width="5.35" height="10.00" fill="#006847"/><rect x="507.40" y="516.50" width="5.35" height="10.00" fill="#ffffff"/><rect x="512.70" y="516.50" width="5.35" height="10.00" fill="#ce1126"/><circle cx="510.05" cy="521.50" r="1.20" fill="#8b5a2b"/>
<rect x="518.00" y="516.50" width="13.40" height="3.38" fill="#ae1c28"/><rect x="518.00" y="519.83" width="13.40" height="3.38" fill="#ffffff"/><rect x="518.00" y="523.17" width="13.40" height="3.38" fill="#21468b"/>
<rect x="531.40" y="516.50" width="5.99" height="10.00" fill="#008751"/><rect x="537.34" y="516.50" width="5.45" height="10.00" fill="#ffffff"/><rect x="542.74" y="516.50" width="5.99" height="10.00" fill="#008751"/><rect x="548.68" y="516.50" width="1.67" height="10.00" fill="#ffffff"/>
<rect x="550.30" y="516.50" width="13.00" height="10.00" fill="#01411c"/><rect x="550.30" y="516.50" width="3.25" height="10.00" fill="#ffffff"/><circle cx="558.36" cy="521.50" r="2.40" fill="#ffffff"/><circle cx="559.40" cy="520.90" r="2.10" fill="#01411c"/>
<rect x="563.30" y="516.50" width="4.68" height="10.00" fill="#d91023"/><rect x="567.93" y="516.50" width="4.68" height="10.00" fill="#ffffff"/><rect x="572.57" y="516.50" width="4.68" height="10.00" fill="#d91023"/><circle cx="570.25" cy="521.50" r="1.20" fill="#8a6a3a"/>
<rect x="577.20" y="516.50" width="18.80" height="5.05" fill="#0038a8"/><rect x="577.20" y="521.50" width="18.80" height="5.05" fill="#ce1126"/><polygon points="577.2,516.5 585.66,521.5 577.2,526.5" fill="#ffffff"/><circle cx="580.02" cy="521.50" r="1.00" fill="#fcd116"/>
<rect x="596.00" y="516.50" width="15.20" height="5.05" fill="#ffffff"/><rect x="596.00" y="521.50" width="15.20" height="5.05" fill="#dc143c"/>
<rect x="611.20" y="516.50" width="4.32" height="10.00" fill="#002b7f"/><rect x="615.47" y="516.50" width="4.32" height="10.00" fill="#fcd116"/><rect x="619.73" y="516.50" width="4.32" height="10.00" fill="#ce1126"/>
<rect x="624.00" y="516.50" width="14.40" height="3.38" fill="#ffffff"/><rect x="624.00" y="519.83" width="14.40" height="3.38" fill="#0039a6"/><rect x="624.00" y="523.17" width="14.40" height="3.38" fill="#d52b1e"/>
<rect x="638.40" y="516.50" width="13.60" height="3.38" fill="#c6363c"/><rect x="638.40" y="519.83" width="13.60" height="3.38" fill="#0c4076"/><rect x="638.40" y="523.17" width="13.60" height="3.38" fill="#ffffff"/><rect x="642.48" y="518.50" width="2.50" height="5.00" fill="#c6363c"/>
<rect x="652.00" y="516.50" width="14.00" height="2.55" fill="#c60b1e"/><rect x="652.00" y="519.00" width="14.00" height="5.05" fill="#ffc400"/><rect x="652.00" y="524.00" width="14.00" height="2.55" fill="#c60b1e"/><rect x="655.50" y="520.00" width="2.00" height="3.00" fill="#ad1519"/>
<rect x="666.00" y="516.50" width="8.80" height="10.00" fill="#d52b1e"/><rect x="669.60" y="518.50" width="1.60" height="6.00" fill="#ffffff"/><rect x="667.40" y="520.70" width="6.00" height="1.60" fill="#ffffff"/>
<rect x="674.80" y="516.50" width="14.30" height="1.72" fill="#a51931"/><rect x="674.80" y="518.17" width="14.30" height="1.72" fill="#ffffff"/><rect x="674.80" y="519.83" width="14.30" height="3.38" fill="#2d2a4a"/><rect x="674.80" y="523.17" width="14.30" height="1.72" fill="#ffffff"/><rect x="674.80" y="524.83" width="14.30" height="1.72" fill="#a51931"/>
<rect x="689.10" y="516.50" width="13.40" height="10.00" fill="#e30a17"/><circle cx="694.19" cy="521.50" r="2.40" fill="#ffffff"/><circle cx="695.13" cy="521.50" r="1.90" fill="#e30a17"/>
<rect x="702.50" y="516.50" width="19.00" height="10.00" fill="#012169"/><line x1="702.5" y1="516.5" x2="721.5" y2="526.5" stroke="#fff" stroke-width="1.8"/><line x1="702.5" y1="526.5" x2="721.5" y2="516.5" stroke="#fff" stroke-width="1.8"/><line x1="702.5" y1="516.5" x2="721.5" y2="526.5" stroke="#c8102e" stroke-width="0.7"/><line x1="702.5" y1="526.5" x2="721.5" y2="516.5" stroke="#c8102e" stroke-width="0.7"/><rect x="710.40" y="516.50" width="3.20" height="10.00" fill="#ffffff"/><rect x="702.50" y="519.90" width="19.00" height="3.20" fill="#ffffff"/><rect x="711.10" y="516.50" width="1.80" height="10.00" fill="#c8102e"/><rect x="702.50" y="520.60" width="19.00" height="1.80" fill="#c8102e"/>
<rect x="721.50" y="516.50" width="17.30" height="1.48" fill="#d06070"/><rect x="721.50" y="517.93" width="17.30" height="1.48" fill="#ffffff"/><rect x="721.50" y="519.36" width="17.30" height="1.48" fill="#d06070"/><rect x="721.50" y="520.79" width="17.30" height="1.48" fill="#ffffff"/><rect x="721.50" y="522.21" width="17.30" height="1.48" fill="#d06070"/><rect x="721.50" y="523.64" width="17.30" height="1.48" fill="#ffffff"/><rect x="721.50" y="525.07" width="17.30" height="1.48" fill="#d06070"/><rect x="721.50" y="516.50" width="7.27" height="5.50" fill="#5a5a9a"/>
<rect x="738.80" y="516.50" width="13.30" height="10.00" fill="#e61e26"/><circle cx="745.45" cy="521.50" r="1.60" fill="#ffff00"/>
</svg>
</body></html>
